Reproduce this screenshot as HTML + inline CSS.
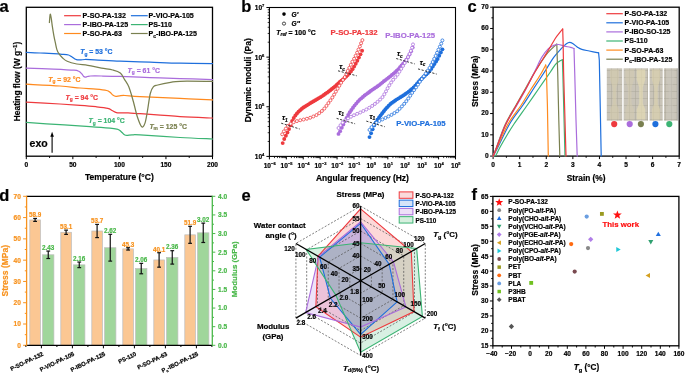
<!DOCTYPE html>
<html><head><meta charset="utf-8"><style>
html,body{margin:0;padding:0;background:#fff;overflow:hidden}
text{stroke-width:0.2px} text:not([stroke]){stroke:#000}
svg{display:block;will-change:transform;font-family:"Liberation Sans", sans-serif}
</style></head><body>
<svg width="685" height="374" viewBox="0 0 685 374">
<text x="-0.6" y="11.8" font-size="16.5" text-anchor="start" fill="#000" stroke="#000" font-weight="bold" >a</text>
<rect x="26.3" y="7.3" width="186.2" height="148.9" fill="none" stroke="#000" stroke-width="1.3" />
<line x1="26.3" y1="156.2" x2="26.3" y2="159.2" stroke="#000" stroke-width="1" />
<line x1="49.58" y1="156.2" x2="49.58" y2="157.9" stroke="#000" stroke-width="1" />
<line x1="72.85" y1="156.2" x2="72.85" y2="159.2" stroke="#000" stroke-width="1" />
<line x1="96.12" y1="156.2" x2="96.12" y2="157.9" stroke="#000" stroke-width="1" />
<line x1="119.4" y1="156.2" x2="119.4" y2="159.2" stroke="#000" stroke-width="1" />
<line x1="142.67" y1="156.2" x2="142.67" y2="157.9" stroke="#000" stroke-width="1" />
<line x1="165.95" y1="156.2" x2="165.95" y2="159.2" stroke="#000" stroke-width="1" />
<line x1="189.22" y1="156.2" x2="189.22" y2="157.9" stroke="#000" stroke-width="1" />
<line x1="212.5" y1="156.2" x2="212.5" y2="159.2" stroke="#000" stroke-width="1" />
<text x="26.3" y="167.2" font-size="6.6" text-anchor="middle" fill="#000" stroke="#000" font-weight="bold" >0</text>
<text x="72.85" y="167.2" font-size="6.6" text-anchor="middle" fill="#000" stroke="#000" font-weight="bold" >50</text>
<text x="119.4" y="167.2" font-size="6.6" text-anchor="middle" fill="#000" stroke="#000" font-weight="bold" >100</text>
<text x="165.95" y="167.2" font-size="6.6" text-anchor="middle" fill="#000" stroke="#000" font-weight="bold" >150</text>
<text x="212.5" y="167.2" font-size="6.6" text-anchor="middle" fill="#000" stroke="#000" font-weight="bold" >200</text>
<text x="119.4" y="179.8" font-size="8.55" text-anchor="middle" fill="#000" stroke="#000" font-weight="bold" >Temperature (°C)</text>
<text x="20.2" y="81.5" font-size="8.4" font-weight="bold" text-anchor="middle" transform="rotate(-90 20.2 81.5)">Heating flow (W g<tspan font-size="5.6" dy="-3.2">−1</tspan><tspan dy="3.2">)</tspan></text>
<text x="29.6" y="147.2" font-size="10.5" text-anchor="start" fill="#000" stroke="#000" font-weight="bold" >exo</text>
<line x1="52.1" y1="152.8" x2="52.1" y2="135.5" stroke="#000" stroke-width="1.1" />
<polygon points="52.1,131.8 50.3,136.8 53.9,136.8" fill="#000" stroke="none" stroke-width="1" stroke-linejoin="miter" />
<path d="M26.3,52.4 C28.58,52.5 35.48,52.78 40,53 C44.52,53.22 49.73,53.48 53.4,53.7 C57.07,53.92 59.48,54.08 62,54.3 C64.52,54.52 67,54.67 68.5,55 C70,55.33 70.2,55.83 71,56.3 C71.8,56.77 72.55,57.3 73.3,57.8 C74.05,58.3 74.8,58.95 75.5,59.3 C76.2,59.65 76.58,59.8 77.5,59.9 C78.42,60 79.75,59.97 81,59.9 C82.25,59.83 82.73,59.52 85,59.5 C87.27,59.48 88.77,59.52 94.6,59.8 C100.43,60.08 110.77,60.8 120,61.2 C129.23,61.6 140,61.87 150,62.2 C160,62.53 169.58,62.97 180,63.2 C190.42,63.43 207.08,63.53 212.5,63.6" fill="none" stroke="#1e6fdc" stroke-width="1.25" stroke-linejoin="round" stroke-linecap="round" />
<path d="M26.3,68.1 C30.82,68.27 45.45,68.75 53.4,69.1 C61.35,69.45 69.77,69.83 74,70.2 C78.23,70.57 77.53,70.73 78.8,71.3 C80.07,71.87 80.82,72.78 81.6,73.6 C82.38,74.42 82.9,75.62 83.5,76.2 C84.1,76.78 84.53,77.05 85.2,77.1 C85.87,77.15 86.62,76.68 87.5,76.5 C88.38,76.32 88.17,76.08 90.5,76 C92.83,75.92 96.58,75.93 101.5,76 C106.42,76.07 111.92,76.13 120,76.4 C128.08,76.67 140,77.23 150,77.6 C160,77.97 169.58,78.27 180,78.6 C190.42,78.93 207.08,79.43 212.5,79.6" fill="none" stroke="#aa6ddc" stroke-width="1.25" stroke-linejoin="round" stroke-linecap="round" />
<path d="M26.3,84.2 C31.92,84.5 51.05,85.37 60,86 C68.95,86.63 74,87.48 80,88 C86,88.52 91.55,88.68 96,89.1 C100.45,89.52 104.37,89.97 106.7,90.5 C109.03,91.03 108.92,91.5 110,92.3 C111.08,93.1 112.23,94.63 113.2,95.3 C114.17,95.97 114.73,96.22 115.8,96.3 C116.87,96.38 118.08,95.93 119.6,95.8 C121.12,95.67 121.5,95.37 124.9,95.5 C128.3,95.63 130.82,96.12 140,96.6 C149.18,97.08 167.92,97.85 180,98.4 C192.08,98.95 207.08,99.65 212.5,99.9" fill="none" stroke="#ff8a1e" stroke-width="1.25" stroke-linejoin="round" stroke-linecap="round" />
<path d="M26.3,102.1 C31.92,102.42 51.05,103.47 60,104 C68.95,104.53 74,104.85 80,105.3 C86,105.75 91.37,106.2 96,106.7 C100.63,107.2 105.12,107.67 107.8,108.3 C110.48,108.93 110.67,109.78 112.1,110.5 C113.53,111.22 114.98,112.2 116.4,112.6 C117.82,113 118.65,112.85 120.6,112.9 C122.55,112.95 124.87,112.77 128.1,112.9 C131.33,113.03 131.35,113.08 140,113.7 C148.65,114.32 167.92,115.88 180,116.6 C192.08,117.32 207.08,117.77 212.5,118" fill="none" stroke="#ee3a3e" stroke-width="1.25" stroke-linejoin="round" stroke-linecap="round" />
<path d="M26.3,122.3 C31.92,122.7 49.38,123.98 60,124.7 C70.62,125.42 81.67,126.02 90,126.6 C98.33,127.18 105.5,127.77 110,128.2 C114.5,128.63 115.42,128.85 117,129.2 C118.58,129.55 118.67,129.75 119.5,130.3 C120.33,130.85 121.18,131.77 122,132.5 C122.82,133.23 123.6,134.22 124.4,134.7 C125.2,135.18 125.53,135.37 126.8,135.4 C128.07,135.43 129.8,134.98 132,134.9 C134.2,134.82 132,134.47 140,134.9 C148,135.33 167.92,136.82 180,137.5 C192.08,138.18 207.08,138.75 212.5,139" fill="none" stroke="#3cb474" stroke-width="1.25" stroke-linejoin="round" stroke-linecap="round" />
<path d="M49.4,22.5 C49.53,21.13 49.88,14.93 50.2,14.3 C50.52,13.67 50.95,16.72 51.3,18.7 C51.65,20.68 51.87,23.33 52.3,26.2 C52.73,29.07 53.37,33.03 53.9,35.9 C54.43,38.77 55,41.12 55.5,43.4 C56,45.68 56.33,47.88 56.9,49.6 C57.47,51.32 57.98,52.33 58.9,53.7 C59.82,55.07 61.02,56.53 62.4,57.8 C63.78,59.07 64.8,60.27 67.2,61.3 C69.6,62.33 73.37,63.32 76.8,64 C80.23,64.68 83.68,64.72 87.8,65.4 C91.92,66.08 97.33,67.33 101.5,68.1 C105.67,68.87 109.67,69.18 112.8,70 C115.93,70.82 118.33,71.4 120.3,73 C122.27,74.6 123.17,77.25 124.6,79.6 C126.03,81.95 127.47,83.53 128.9,87.1 C130.33,90.67 131.78,96.02 133.2,101 C134.62,105.98 135.98,112.72 137.4,117 C138.82,121.28 140.45,125.63 141.7,126.7 C142.95,127.77 143.93,126.08 144.9,123.4 C145.87,120.72 146.6,115.58 147.5,110.6 C148.4,105.62 149.3,97.48 150.3,93.5 C151.3,89.52 152.25,88.12 153.5,86.7 C154.75,85.28 154.95,85.72 157.8,85 C160.65,84.28 166.9,83.02 170.6,82.4 C174.3,81.78 173.02,81.47 180,81.3 C186.98,81.13 207.08,81.38 212.5,81.4" fill="none" stroke="#7a8050" stroke-width="1.25" stroke-linejoin="round" stroke-linecap="round" />
<text x="80.2" y="54.2" font-size="6.9" fill="#1e6fdc" stroke="#1e6fdc" font-weight="bold" text-anchor="start" ><tspan font-style="italic">T</tspan><tspan font-size="4.83" dy="1.52">g</tspan><tspan dy="-1.52"> = 53 °C</tspan></text>
<text x="127.6" y="72.8" font-size="6.9" fill="#aa6ddc" stroke="#aa6ddc" font-weight="bold" text-anchor="start" ><tspan font-style="italic">T</tspan><tspan font-size="4.83" dy="1.52">g</tspan><tspan dy="-1.52"> = 61 °C</tspan></text>
<text x="48.2" y="81.9" font-size="6.9" fill="#ff8a1e" stroke="#ff8a1e" font-weight="bold" text-anchor="start" ><tspan font-style="italic">T</tspan><tspan font-size="4.83" dy="1.52">g</tspan><tspan dy="-1.52"> = 92 °C</tspan></text>
<text x="65.6" y="99.8" font-size="6.9" fill="#ee3a3e" stroke="#ee3a3e" font-weight="bold" text-anchor="start" ><tspan font-style="italic">T</tspan><tspan font-size="4.83" dy="1.52">g</tspan><tspan dy="-1.52"> = 94 °C</tspan></text>
<text x="88.6" y="123.1" font-size="6.9" fill="#3cb474" stroke="#3cb474" font-weight="bold" text-anchor="start" ><tspan font-style="italic">T</tspan><tspan font-size="4.83" dy="1.52">g</tspan><tspan dy="-1.52"> = 104 °C</tspan></text>
<text x="149.4" y="128.8" font-size="6.9" fill="#7a8050" stroke="#7a8050" font-weight="bold" text-anchor="start" ><tspan font-style="italic">T</tspan><tspan font-size="4.83" dy="1.52">m</tspan><tspan dy="-1.52"> = 125 °C</tspan></text>
<line x1="64.1" y1="15.7" x2="80.9" y2="15.7" stroke="#ee3a3e" stroke-width="1.2" />
<text x="82.6" y="18" font-size="7.1" text-anchor="start" fill="#000" stroke="#000" font-weight="bold" >P-SO-PA-132</text>
<line x1="64.1" y1="24.6" x2="80.9" y2="24.6" stroke="#aa6ddc" stroke-width="1.2" />
<text x="82.6" y="26.9" font-size="7.1" text-anchor="start" fill="#000" stroke="#000" font-weight="bold" >P-IBO-PA-125</text>
<line x1="64.1" y1="33.5" x2="80.9" y2="33.5" stroke="#ff8a1e" stroke-width="1.2" />
<text x="82.6" y="35.8" font-size="7.1" text-anchor="start" fill="#000" stroke="#000" font-weight="bold" >P-SO-PA-63</text>
<line x1="130.9" y1="15.7" x2="147.7" y2="15.7" stroke="#1e6fdc" stroke-width="1.2" />
<text x="148.6" y="18" font-size="7.1" text-anchor="start" fill="#000" stroke="#000" font-weight="bold" >P-VIO-PA-105</text>
<line x1="130.9" y1="24.6" x2="147.7" y2="24.6" stroke="#3cb474" stroke-width="1.2" />
<text x="148.6" y="26.9" font-size="7.1" text-anchor="start" fill="#000" stroke="#000" font-weight="bold" >PS-110</text>
<line x1="130.9" y1="33.5" x2="147.7" y2="33.5" stroke="#7a8050" stroke-width="1.2" />
<text x="148.6" y="35.8" font-size="7.1" font-weight="bold">P<tspan font-size="5" dy="1.8">c</tspan><tspan dy="-1.8">-IBO-PA-125</tspan></text>
<text x="241.2" y="11.7" font-size="16.5" text-anchor="start" fill="#000" stroke="#000" font-weight="bold" >b</text>
<rect x="269.4" y="7.5" width="186.1" height="148.9" fill="none" stroke="#000" stroke-width="1.1" />
<line x1="269.4" y1="156.4" x2="269.4" y2="159.4" stroke="#000" stroke-width="1" />
<line x1="274.49" y1="156.4" x2="274.49" y2="158.1" stroke="#000" stroke-width="0.8" />
<line x1="277.47" y1="156.4" x2="277.47" y2="158.1" stroke="#000" stroke-width="0.8" />
<line x1="279.59" y1="156.4" x2="279.59" y2="158.1" stroke="#000" stroke-width="0.8" />
<line x1="281.23" y1="156.4" x2="281.23" y2="158.1" stroke="#000" stroke-width="0.8" />
<line x1="282.56" y1="156.4" x2="282.56" y2="158.1" stroke="#000" stroke-width="0.8" />
<line x1="283.7" y1="156.4" x2="283.7" y2="158.1" stroke="#000" stroke-width="0.8" />
<line x1="284.68" y1="156.4" x2="284.68" y2="158.1" stroke="#000" stroke-width="0.8" />
<line x1="285.54" y1="156.4" x2="285.54" y2="158.1" stroke="#000" stroke-width="0.8" />
<text x="269.7" y="167.6" font-size="6.6" font-weight="bold" text-anchor="middle">10<tspan font-size="4.09" dy="-2.77">−6</tspan></text>
<line x1="286.32" y1="156.4" x2="286.32" y2="159.4" stroke="#000" stroke-width="1" />
<line x1="291.41" y1="156.4" x2="291.41" y2="158.1" stroke="#000" stroke-width="0.8" />
<line x1="294.39" y1="156.4" x2="294.39" y2="158.1" stroke="#000" stroke-width="0.8" />
<line x1="296.5" y1="156.4" x2="296.5" y2="158.1" stroke="#000" stroke-width="0.8" />
<line x1="298.14" y1="156.4" x2="298.14" y2="158.1" stroke="#000" stroke-width="0.8" />
<line x1="299.48" y1="156.4" x2="299.48" y2="158.1" stroke="#000" stroke-width="0.8" />
<line x1="300.62" y1="156.4" x2="300.62" y2="158.1" stroke="#000" stroke-width="0.8" />
<line x1="301.6" y1="156.4" x2="301.6" y2="158.1" stroke="#000" stroke-width="0.8" />
<line x1="302.46" y1="156.4" x2="302.46" y2="158.1" stroke="#000" stroke-width="0.8" />
<text x="286.62" y="167.6" font-size="6.6" font-weight="bold" text-anchor="middle">10<tspan font-size="4.09" dy="-2.77">−5</tspan></text>
<line x1="303.24" y1="156.4" x2="303.24" y2="159.4" stroke="#000" stroke-width="1" />
<line x1="308.33" y1="156.4" x2="308.33" y2="158.1" stroke="#000" stroke-width="0.8" />
<line x1="311.31" y1="156.4" x2="311.31" y2="158.1" stroke="#000" stroke-width="0.8" />
<line x1="313.42" y1="156.4" x2="313.42" y2="158.1" stroke="#000" stroke-width="0.8" />
<line x1="315.06" y1="156.4" x2="315.06" y2="158.1" stroke="#000" stroke-width="0.8" />
<line x1="316.4" y1="156.4" x2="316.4" y2="158.1" stroke="#000" stroke-width="0.8" />
<line x1="317.53" y1="156.4" x2="317.53" y2="158.1" stroke="#000" stroke-width="0.8" />
<line x1="318.52" y1="156.4" x2="318.52" y2="158.1" stroke="#000" stroke-width="0.8" />
<line x1="319.38" y1="156.4" x2="319.38" y2="158.1" stroke="#000" stroke-width="0.8" />
<text x="303.54" y="167.6" font-size="6.6" font-weight="bold" text-anchor="middle">10<tspan font-size="4.09" dy="-2.77">−4</tspan></text>
<line x1="320.15" y1="156.4" x2="320.15" y2="159.4" stroke="#000" stroke-width="1" />
<line x1="325.25" y1="156.4" x2="325.25" y2="158.1" stroke="#000" stroke-width="0.8" />
<line x1="328.23" y1="156.4" x2="328.23" y2="158.1" stroke="#000" stroke-width="0.8" />
<line x1="330.34" y1="156.4" x2="330.34" y2="158.1" stroke="#000" stroke-width="0.8" />
<line x1="331.98" y1="156.4" x2="331.98" y2="158.1" stroke="#000" stroke-width="0.8" />
<line x1="333.32" y1="156.4" x2="333.32" y2="158.1" stroke="#000" stroke-width="0.8" />
<line x1="334.45" y1="156.4" x2="334.45" y2="158.1" stroke="#000" stroke-width="0.8" />
<line x1="335.43" y1="156.4" x2="335.43" y2="158.1" stroke="#000" stroke-width="0.8" />
<line x1="336.3" y1="156.4" x2="336.3" y2="158.1" stroke="#000" stroke-width="0.8" />
<text x="320.45" y="167.6" font-size="6.6" font-weight="bold" text-anchor="middle">10<tspan font-size="4.09" dy="-2.77">−3</tspan></text>
<line x1="337.07" y1="156.4" x2="337.07" y2="159.4" stroke="#000" stroke-width="1" />
<line x1="342.17" y1="156.4" x2="342.17" y2="158.1" stroke="#000" stroke-width="0.8" />
<line x1="345.14" y1="156.4" x2="345.14" y2="158.1" stroke="#000" stroke-width="0.8" />
<line x1="347.26" y1="156.4" x2="347.26" y2="158.1" stroke="#000" stroke-width="0.8" />
<line x1="348.9" y1="156.4" x2="348.9" y2="158.1" stroke="#000" stroke-width="0.8" />
<line x1="350.24" y1="156.4" x2="350.24" y2="158.1" stroke="#000" stroke-width="0.8" />
<line x1="351.37" y1="156.4" x2="351.37" y2="158.1" stroke="#000" stroke-width="0.8" />
<line x1="352.35" y1="156.4" x2="352.35" y2="158.1" stroke="#000" stroke-width="0.8" />
<line x1="353.22" y1="156.4" x2="353.22" y2="158.1" stroke="#000" stroke-width="0.8" />
<text x="337.37" y="167.6" font-size="6.6" font-weight="bold" text-anchor="middle">10<tspan font-size="4.09" dy="-2.77">−2</tspan></text>
<line x1="353.99" y1="156.4" x2="353.99" y2="159.4" stroke="#000" stroke-width="1" />
<line x1="359.08" y1="156.4" x2="359.08" y2="158.1" stroke="#000" stroke-width="0.8" />
<line x1="362.06" y1="156.4" x2="362.06" y2="158.1" stroke="#000" stroke-width="0.8" />
<line x1="364.18" y1="156.4" x2="364.18" y2="158.1" stroke="#000" stroke-width="0.8" />
<line x1="365.82" y1="156.4" x2="365.82" y2="158.1" stroke="#000" stroke-width="0.8" />
<line x1="367.16" y1="156.4" x2="367.16" y2="158.1" stroke="#000" stroke-width="0.8" />
<line x1="368.29" y1="156.4" x2="368.29" y2="158.1" stroke="#000" stroke-width="0.8" />
<line x1="369.27" y1="156.4" x2="369.27" y2="158.1" stroke="#000" stroke-width="0.8" />
<line x1="370.13" y1="156.4" x2="370.13" y2="158.1" stroke="#000" stroke-width="0.8" />
<text x="354.29" y="167.6" font-size="6.6" font-weight="bold" text-anchor="middle">10<tspan font-size="4.09" dy="-2.77">−1</tspan></text>
<line x1="370.91" y1="156.4" x2="370.91" y2="159.4" stroke="#000" stroke-width="1" />
<line x1="376" y1="156.4" x2="376" y2="158.1" stroke="#000" stroke-width="0.8" />
<line x1="378.98" y1="156.4" x2="378.98" y2="158.1" stroke="#000" stroke-width="0.8" />
<line x1="381.09" y1="156.4" x2="381.09" y2="158.1" stroke="#000" stroke-width="0.8" />
<line x1="382.73" y1="156.4" x2="382.73" y2="158.1" stroke="#000" stroke-width="0.8" />
<line x1="384.07" y1="156.4" x2="384.07" y2="158.1" stroke="#000" stroke-width="0.8" />
<line x1="385.21" y1="156.4" x2="385.21" y2="158.1" stroke="#000" stroke-width="0.8" />
<line x1="386.19" y1="156.4" x2="386.19" y2="158.1" stroke="#000" stroke-width="0.8" />
<line x1="387.05" y1="156.4" x2="387.05" y2="158.1" stroke="#000" stroke-width="0.8" />
<text x="371.21" y="167.6" font-size="6.6" font-weight="bold" text-anchor="middle">10<tspan font-size="4.09" dy="-2.77">0</tspan></text>
<line x1="387.83" y1="156.4" x2="387.83" y2="159.4" stroke="#000" stroke-width="1" />
<line x1="392.92" y1="156.4" x2="392.92" y2="158.1" stroke="#000" stroke-width="0.8" />
<line x1="395.9" y1="156.4" x2="395.9" y2="158.1" stroke="#000" stroke-width="0.8" />
<line x1="398.01" y1="156.4" x2="398.01" y2="158.1" stroke="#000" stroke-width="0.8" />
<line x1="399.65" y1="156.4" x2="399.65" y2="158.1" stroke="#000" stroke-width="0.8" />
<line x1="400.99" y1="156.4" x2="400.99" y2="158.1" stroke="#000" stroke-width="0.8" />
<line x1="402.12" y1="156.4" x2="402.12" y2="158.1" stroke="#000" stroke-width="0.8" />
<line x1="403.11" y1="156.4" x2="403.11" y2="158.1" stroke="#000" stroke-width="0.8" />
<line x1="403.97" y1="156.4" x2="403.97" y2="158.1" stroke="#000" stroke-width="0.8" />
<text x="388.13" y="167.6" font-size="6.6" font-weight="bold" text-anchor="middle">10<tspan font-size="4.09" dy="-2.77">1</tspan></text>
<line x1="404.75" y1="156.4" x2="404.75" y2="159.4" stroke="#000" stroke-width="1" />
<line x1="409.84" y1="156.4" x2="409.84" y2="158.1" stroke="#000" stroke-width="0.8" />
<line x1="412.82" y1="156.4" x2="412.82" y2="158.1" stroke="#000" stroke-width="0.8" />
<line x1="414.93" y1="156.4" x2="414.93" y2="158.1" stroke="#000" stroke-width="0.8" />
<line x1="416.57" y1="156.4" x2="416.57" y2="158.1" stroke="#000" stroke-width="0.8" />
<line x1="417.91" y1="156.4" x2="417.91" y2="158.1" stroke="#000" stroke-width="0.8" />
<line x1="419.04" y1="156.4" x2="419.04" y2="158.1" stroke="#000" stroke-width="0.8" />
<line x1="420.02" y1="156.4" x2="420.02" y2="158.1" stroke="#000" stroke-width="0.8" />
<line x1="420.89" y1="156.4" x2="420.89" y2="158.1" stroke="#000" stroke-width="0.8" />
<text x="405.05" y="167.6" font-size="6.6" font-weight="bold" text-anchor="middle">10<tspan font-size="4.09" dy="-2.77">2</tspan></text>
<line x1="421.66" y1="156.4" x2="421.66" y2="159.4" stroke="#000" stroke-width="1" />
<line x1="426.76" y1="156.4" x2="426.76" y2="158.1" stroke="#000" stroke-width="0.8" />
<line x1="429.74" y1="156.4" x2="429.74" y2="158.1" stroke="#000" stroke-width="0.8" />
<line x1="431.85" y1="156.4" x2="431.85" y2="158.1" stroke="#000" stroke-width="0.8" />
<line x1="433.49" y1="156.4" x2="433.49" y2="158.1" stroke="#000" stroke-width="0.8" />
<line x1="434.83" y1="156.4" x2="434.83" y2="158.1" stroke="#000" stroke-width="0.8" />
<line x1="435.96" y1="156.4" x2="435.96" y2="158.1" stroke="#000" stroke-width="0.8" />
<line x1="436.94" y1="156.4" x2="436.94" y2="158.1" stroke="#000" stroke-width="0.8" />
<line x1="437.81" y1="156.4" x2="437.81" y2="158.1" stroke="#000" stroke-width="0.8" />
<text x="421.96" y="167.6" font-size="6.6" font-weight="bold" text-anchor="middle">10<tspan font-size="4.09" dy="-2.77">3</tspan></text>
<line x1="438.58" y1="156.4" x2="438.58" y2="159.4" stroke="#000" stroke-width="1" />
<line x1="443.67" y1="156.4" x2="443.67" y2="158.1" stroke="#000" stroke-width="0.8" />
<line x1="446.65" y1="156.4" x2="446.65" y2="158.1" stroke="#000" stroke-width="0.8" />
<line x1="448.77" y1="156.4" x2="448.77" y2="158.1" stroke="#000" stroke-width="0.8" />
<line x1="450.41" y1="156.4" x2="450.41" y2="158.1" stroke="#000" stroke-width="0.8" />
<line x1="451.75" y1="156.4" x2="451.75" y2="158.1" stroke="#000" stroke-width="0.8" />
<line x1="452.88" y1="156.4" x2="452.88" y2="158.1" stroke="#000" stroke-width="0.8" />
<line x1="453.86" y1="156.4" x2="453.86" y2="158.1" stroke="#000" stroke-width="0.8" />
<line x1="454.73" y1="156.4" x2="454.73" y2="158.1" stroke="#000" stroke-width="0.8" />
<text x="438.88" y="167.6" font-size="6.6" font-weight="bold" text-anchor="middle">10<tspan font-size="4.09" dy="-2.77">4</tspan></text>
<line x1="455.5" y1="156.4" x2="455.5" y2="159.4" stroke="#000" stroke-width="1" />
<text x="455.8" y="167.6" font-size="6.6" font-weight="bold" text-anchor="middle">10<tspan font-size="4.09" dy="-2.77">5</tspan></text>
<line x1="269.4" y1="156.4" x2="266.4" y2="156.4" stroke="#000" stroke-width="1" />
<line x1="269.4" y1="141.46" x2="267.7" y2="141.46" stroke="#000" stroke-width="0.8" />
<line x1="269.4" y1="132.72" x2="267.7" y2="132.72" stroke="#000" stroke-width="0.8" />
<line x1="269.4" y1="126.52" x2="267.7" y2="126.52" stroke="#000" stroke-width="0.8" />
<line x1="269.4" y1="121.71" x2="267.7" y2="121.71" stroke="#000" stroke-width="0.8" />
<line x1="269.4" y1="117.78" x2="267.7" y2="117.78" stroke="#000" stroke-width="0.8" />
<line x1="269.4" y1="114.45" x2="267.7" y2="114.45" stroke="#000" stroke-width="0.8" />
<line x1="269.4" y1="111.58" x2="267.7" y2="111.58" stroke="#000" stroke-width="0.8" />
<line x1="269.4" y1="109.04" x2="267.7" y2="109.04" stroke="#000" stroke-width="0.8" />
<text x="264.4" y="158.8" font-size="6.6" font-weight="bold" text-anchor="end">10<tspan font-size="4.09" dy="-2.77">4</tspan></text>
<line x1="269.4" y1="106.77" x2="266.4" y2="106.77" stroke="#000" stroke-width="1" />
<line x1="269.4" y1="91.83" x2="267.7" y2="91.83" stroke="#000" stroke-width="0.8" />
<line x1="269.4" y1="83.09" x2="267.7" y2="83.09" stroke="#000" stroke-width="0.8" />
<line x1="269.4" y1="76.88" x2="267.7" y2="76.88" stroke="#000" stroke-width="0.8" />
<line x1="269.4" y1="72.07" x2="267.7" y2="72.07" stroke="#000" stroke-width="0.8" />
<line x1="269.4" y1="68.14" x2="267.7" y2="68.14" stroke="#000" stroke-width="0.8" />
<line x1="269.4" y1="64.82" x2="267.7" y2="64.82" stroke="#000" stroke-width="0.8" />
<line x1="269.4" y1="61.94" x2="267.7" y2="61.94" stroke="#000" stroke-width="0.8" />
<line x1="269.4" y1="59.4" x2="267.7" y2="59.4" stroke="#000" stroke-width="0.8" />
<text x="264.4" y="109.17" font-size="6.6" font-weight="bold" text-anchor="end">10<tspan font-size="4.09" dy="-2.77">5</tspan></text>
<line x1="269.4" y1="57.13" x2="266.4" y2="57.13" stroke="#000" stroke-width="1" />
<line x1="269.4" y1="42.19" x2="267.7" y2="42.19" stroke="#000" stroke-width="0.8" />
<line x1="269.4" y1="33.45" x2="267.7" y2="33.45" stroke="#000" stroke-width="0.8" />
<line x1="269.4" y1="27.25" x2="267.7" y2="27.25" stroke="#000" stroke-width="0.8" />
<line x1="269.4" y1="22.44" x2="267.7" y2="22.44" stroke="#000" stroke-width="0.8" />
<line x1="269.4" y1="18.51" x2="267.7" y2="18.51" stroke="#000" stroke-width="0.8" />
<line x1="269.4" y1="15.19" x2="267.7" y2="15.19" stroke="#000" stroke-width="0.8" />
<line x1="269.4" y1="12.31" x2="267.7" y2="12.31" stroke="#000" stroke-width="0.8" />
<line x1="269.4" y1="9.77" x2="267.7" y2="9.77" stroke="#000" stroke-width="0.8" />
<text x="264.4" y="59.53" font-size="6.6" font-weight="bold" text-anchor="end">10<tspan font-size="4.09" dy="-2.77">6</tspan></text>
<line x1="269.4" y1="7.5" x2="266.4" y2="7.5" stroke="#000" stroke-width="1" />
<text x="264.4" y="9.9" font-size="6.6" font-weight="bold" text-anchor="end">10<tspan font-size="4.09" dy="-2.77">7</tspan></text>
<text x="362.45" y="181.3" font-size="8.45" text-anchor="middle" fill="#000" stroke="#000" font-weight="bold" >Angular frequency (Hz)</text>
<text x="250.6" y="80.3" font-size="8.5" text-anchor="middle" fill="#000" stroke="#000" font-weight="bold" transform="rotate(-90 250.6 80.3)" >Dynamic moduli (Pa)</text>
<circle cx="284" cy="14.1" r="1.8" fill="#000" stroke="none" stroke-width="1" />
<circle cx="284" cy="23.6" r="1.6" fill="#fff" stroke="#000" stroke-width="0.7" />
<text x="291.5" y="16.6" font-size="6.6" font-weight="bold" font-style="italic">G′</text>
<text x="291.5" y="26.1" font-size="6.6" font-weight="bold" font-style="italic">G″</text>
<text x="276.3" y="34.6" font-size="6.9" font-weight="bold"><tspan font-style="italic">T</tspan><tspan font-size="4.8" dy="1.8" font-style="italic">ref</tspan><tspan dy="-1.8"> = 100 °C</tspan></text>
<text x="330.4" y="34.6" font-size="7.75" text-anchor="start" fill="#ee3a3e" stroke="#ee3a3e" font-weight="bold" >P-SO-PA-132</text>
<text x="385.2" y="37.6" font-size="7.75" text-anchor="start" fill="#aa6ddc" stroke="#aa6ddc" font-weight="bold" >P-IBO-PA-125</text>
<text x="396.2" y="126" font-size="7.75" text-anchor="start" fill="#1e6fdc" stroke="#1e6fdc" font-weight="bold" >P-VIO-PA-105</text>
<circle cx="282.7" cy="143.1" r="1.95" fill="#ee3a3e" stroke="none" stroke-width="1" />
<circle cx="284.23" cy="138.98" r="1.95" fill="#ee3a3e" stroke="none" stroke-width="1" />
<circle cx="285.86" cy="135.76" r="1.95" fill="#ee3a3e" stroke="none" stroke-width="1" />
<circle cx="287.48" cy="132.55" r="1.95" fill="#ee3a3e" stroke="none" stroke-width="1" />
<circle cx="289.04" cy="129.09" r="1.95" fill="#ee3a3e" stroke="none" stroke-width="1" />
<circle cx="290.62" cy="125.19" r="1.95" fill="#ee3a3e" stroke="none" stroke-width="1" />
<circle cx="292.16" cy="121.07" r="1.95" fill="#ee3a3e" stroke="none" stroke-width="1" />
<circle cx="293.73" cy="118.06" r="1.95" fill="#ee3a3e" stroke="none" stroke-width="1" />
<circle cx="295.36" cy="115.55" r="1.95" fill="#ee3a3e" stroke="none" stroke-width="1" />
<circle cx="296.94" cy="113.49" r="1.95" fill="#ee3a3e" stroke="none" stroke-width="1" />
<circle cx="298.51" cy="111.67" r="1.95" fill="#ee3a3e" stroke="none" stroke-width="1" />
<circle cx="300.12" cy="110.18" r="1.95" fill="#ee3a3e" stroke="none" stroke-width="1" />
<circle cx="301.81" cy="108.78" r="1.95" fill="#ee3a3e" stroke="none" stroke-width="1" />
<circle cx="303.39" cy="107.55" r="1.95" fill="#ee3a3e" stroke="none" stroke-width="1" />
<circle cx="305.08" cy="106.49" r="1.95" fill="#ee3a3e" stroke="none" stroke-width="1" />
<circle cx="306.78" cy="105.42" r="1.95" fill="#ee3a3e" stroke="none" stroke-width="1" />
<circle cx="308.47" cy="104.36" r="1.95" fill="#ee3a3e" stroke="none" stroke-width="1" />
<circle cx="310.18" cy="103.32" r="1.95" fill="#ee3a3e" stroke="none" stroke-width="1" />
<circle cx="311.89" cy="102.28" r="1.95" fill="#ee3a3e" stroke="none" stroke-width="1" />
<circle cx="313.6" cy="101.25" r="1.95" fill="#ee3a3e" stroke="none" stroke-width="1" />
<circle cx="315.31" cy="100.21" r="1.95" fill="#ee3a3e" stroke="none" stroke-width="1" />
<circle cx="317.03" cy="99.19" r="1.95" fill="#ee3a3e" stroke="none" stroke-width="1" />
<circle cx="318.75" cy="98.16" r="1.95" fill="#ee3a3e" stroke="none" stroke-width="1" />
<circle cx="320.47" cy="97.14" r="1.95" fill="#ee3a3e" stroke="none" stroke-width="1" />
<circle cx="322.16" cy="96.08" r="1.95" fill="#ee3a3e" stroke="none" stroke-width="1" />
<circle cx="323.8" cy="94.93" r="1.95" fill="#ee3a3e" stroke="none" stroke-width="1" />
<circle cx="325.44" cy="93.78" r="1.95" fill="#ee3a3e" stroke="none" stroke-width="1" />
<circle cx="327.07" cy="92.63" r="1.95" fill="#ee3a3e" stroke="none" stroke-width="1" />
<circle cx="328.7" cy="91.46" r="1.95" fill="#ee3a3e" stroke="none" stroke-width="1" />
<circle cx="330.27" cy="90.22" r="1.95" fill="#ee3a3e" stroke="none" stroke-width="1" />
<circle cx="331.84" cy="88.98" r="1.95" fill="#ee3a3e" stroke="none" stroke-width="1" />
<circle cx="333.4" cy="87.74" r="1.95" fill="#ee3a3e" stroke="none" stroke-width="1" />
<circle cx="334.97" cy="86.5" r="1.95" fill="#ee3a3e" stroke="none" stroke-width="1" />
<circle cx="336.59" cy="85" r="1.95" fill="#ee3a3e" stroke="none" stroke-width="1" />
<circle cx="338.19" cy="83.5" r="1.95" fill="#ee3a3e" stroke="none" stroke-width="1" />
<circle cx="339.79" cy="81.99" r="1.95" fill="#ee3a3e" stroke="none" stroke-width="1" />
<circle cx="341.37" cy="80.76" r="1.95" fill="#ee3a3e" stroke="none" stroke-width="1" />
<circle cx="342.95" cy="79.54" r="1.95" fill="#ee3a3e" stroke="none" stroke-width="1" />
<circle cx="344.58" cy="78.06" r="1.95" fill="#ee3a3e" stroke="none" stroke-width="1" />
<circle cx="346.16" cy="76.53" r="1.95" fill="#ee3a3e" stroke="none" stroke-width="1" />
<circle cx="347.72" cy="74.98" r="1.95" fill="#ee3a3e" stroke="none" stroke-width="1" />
<circle cx="349.28" cy="73.42" r="1.95" fill="#ee3a3e" stroke="none" stroke-width="1" />
<circle cx="350.91" cy="71.41" r="1.95" fill="#ee3a3e" stroke="none" stroke-width="1" />
<circle cx="352.54" cy="69.13" r="1.95" fill="#ee3a3e" stroke="none" stroke-width="1" />
<circle cx="354.14" cy="66.59" r="1.95" fill="#ee3a3e" stroke="none" stroke-width="1" />
<circle cx="355.71" cy="63.81" r="1.95" fill="#ee3a3e" stroke="none" stroke-width="1" />
<circle cx="357.32" cy="60.81" r="1.95" fill="#ee3a3e" stroke="none" stroke-width="1" />
<circle cx="358.93" cy="57.59" r="1.95" fill="#ee3a3e" stroke="none" stroke-width="1" />
<circle cx="360.48" cy="54.34" r="1.95" fill="#ee3a3e" stroke="none" stroke-width="1" />
<circle cx="362.08" cy="50.68" r="1.95" fill="#ee3a3e" stroke="none" stroke-width="1" />
<circle cx="338.5" cy="133.9" r="1.95" fill="#aa6ddc" stroke="none" stroke-width="1" />
<circle cx="340.15" cy="131.15" r="1.95" fill="#aa6ddc" stroke="none" stroke-width="1" />
<circle cx="341.76" cy="127.72" r="1.95" fill="#aa6ddc" stroke="none" stroke-width="1" />
<circle cx="343.32" cy="124.47" r="1.95" fill="#aa6ddc" stroke="none" stroke-width="1" />
<circle cx="344.93" cy="121.25" r="1.95" fill="#aa6ddc" stroke="none" stroke-width="1" />
<circle cx="346.54" cy="118.02" r="1.95" fill="#aa6ddc" stroke="none" stroke-width="1" />
<circle cx="348.18" cy="115.04" r="1.95" fill="#aa6ddc" stroke="none" stroke-width="1" />
<circle cx="349.76" cy="112.26" r="1.95" fill="#aa6ddc" stroke="none" stroke-width="1" />
<circle cx="351.34" cy="109.95" r="1.95" fill="#aa6ddc" stroke="none" stroke-width="1" />
<circle cx="352.99" cy="107.69" r="1.95" fill="#aa6ddc" stroke="none" stroke-width="1" />
<circle cx="354.55" cy="105.6" r="1.95" fill="#aa6ddc" stroke="none" stroke-width="1" />
<circle cx="356.23" cy="103.61" r="1.95" fill="#aa6ddc" stroke="none" stroke-width="1" />
<circle cx="357.9" cy="101.62" r="1.95" fill="#aa6ddc" stroke="none" stroke-width="1" />
<circle cx="359.51" cy="99.85" r="1.95" fill="#aa6ddc" stroke="none" stroke-width="1" />
<circle cx="361.18" cy="98.41" r="1.95" fill="#aa6ddc" stroke="none" stroke-width="1" />
<circle cx="362.86" cy="96.98" r="1.95" fill="#aa6ddc" stroke="none" stroke-width="1" />
<circle cx="364.53" cy="95.55" r="1.95" fill="#aa6ddc" stroke="none" stroke-width="1" />
<circle cx="366.12" cy="94.34" r="1.95" fill="#aa6ddc" stroke="none" stroke-width="1" />
<circle cx="367.72" cy="93.14" r="1.95" fill="#aa6ddc" stroke="none" stroke-width="1" />
<circle cx="369.32" cy="91.93" r="1.95" fill="#aa6ddc" stroke="none" stroke-width="1" />
<circle cx="370.92" cy="90.73" r="1.95" fill="#aa6ddc" stroke="none" stroke-width="1" />
<circle cx="372.58" cy="89.61" r="1.95" fill="#aa6ddc" stroke="none" stroke-width="1" />
<circle cx="374.25" cy="88.5" r="1.95" fill="#aa6ddc" stroke="none" stroke-width="1" />
<circle cx="375.91" cy="87.39" r="1.95" fill="#aa6ddc" stroke="none" stroke-width="1" />
<circle cx="377.58" cy="86.28" r="1.95" fill="#aa6ddc" stroke="none" stroke-width="1" />
<circle cx="379.18" cy="85.09" r="1.95" fill="#aa6ddc" stroke="none" stroke-width="1" />
<circle cx="380.74" cy="83.83" r="1.95" fill="#aa6ddc" stroke="none" stroke-width="1" />
<circle cx="382.3" cy="82.58" r="1.95" fill="#aa6ddc" stroke="none" stroke-width="1" />
<circle cx="383.86" cy="81.32" r="1.95" fill="#aa6ddc" stroke="none" stroke-width="1" />
<circle cx="385.43" cy="80.09" r="1.95" fill="#aa6ddc" stroke="none" stroke-width="1" />
<circle cx="387.02" cy="78.87" r="1.95" fill="#aa6ddc" stroke="none" stroke-width="1" />
<circle cx="388.61" cy="77.65" r="1.95" fill="#aa6ddc" stroke="none" stroke-width="1" />
<circle cx="390.17" cy="76.4" r="1.95" fill="#aa6ddc" stroke="none" stroke-width="1" />
<circle cx="391.86" cy="74.99" r="1.95" fill="#aa6ddc" stroke="none" stroke-width="1" />
<circle cx="393.55" cy="73.58" r="1.95" fill="#aa6ddc" stroke="none" stroke-width="1" />
<circle cx="395.18" cy="72.1" r="1.95" fill="#aa6ddc" stroke="none" stroke-width="1" />
<circle cx="396.78" cy="70.59" r="1.95" fill="#aa6ddc" stroke="none" stroke-width="1" />
<circle cx="398.39" cy="69.08" r="1.95" fill="#aa6ddc" stroke="none" stroke-width="1" />
<circle cx="400" cy="67.3" r="1.95" fill="#aa6ddc" stroke="none" stroke-width="1" />
<circle cx="401.56" cy="65.48" r="1.95" fill="#aa6ddc" stroke="none" stroke-width="1" />
<circle cx="403.12" cy="63.66" r="1.95" fill="#aa6ddc" stroke="none" stroke-width="1" />
<circle cx="404.69" cy="61.83" r="1.95" fill="#aa6ddc" stroke="none" stroke-width="1" />
<circle cx="406.32" cy="59.81" r="1.95" fill="#aa6ddc" stroke="none" stroke-width="1" />
<circle cx="407.97" cy="57.3" r="1.95" fill="#aa6ddc" stroke="none" stroke-width="1" />
<circle cx="409.52" cy="54.51" r="1.95" fill="#aa6ddc" stroke="none" stroke-width="1" />
<circle cx="411.1" cy="51.27" r="1.95" fill="#aa6ddc" stroke="none" stroke-width="1" />
<circle cx="412.7" cy="47.6" r="1.95" fill="#aa6ddc" stroke="none" stroke-width="1" />
<circle cx="369.5" cy="137.1" r="1.95" fill="#1e6fdc" stroke="none" stroke-width="1" />
<circle cx="371.06" cy="133.2" r="1.95" fill="#1e6fdc" stroke="none" stroke-width="1" />
<circle cx="372.62" cy="129.3" r="1.95" fill="#1e6fdc" stroke="none" stroke-width="1" />
<circle cx="374.18" cy="125.41" r="1.95" fill="#1e6fdc" stroke="none" stroke-width="1" />
<circle cx="375.82" cy="122.43" r="1.95" fill="#1e6fdc" stroke="none" stroke-width="1" />
<circle cx="377.41" cy="119.66" r="1.95" fill="#1e6fdc" stroke="none" stroke-width="1" />
<circle cx="379.08" cy="117.41" r="1.95" fill="#1e6fdc" stroke="none" stroke-width="1" />
<circle cx="380.64" cy="115.34" r="1.95" fill="#1e6fdc" stroke="none" stroke-width="1" />
<circle cx="382.22" cy="113.27" r="1.95" fill="#1e6fdc" stroke="none" stroke-width="1" />
<circle cx="383.82" cy="111.22" r="1.95" fill="#1e6fdc" stroke="none" stroke-width="1" />
<circle cx="385.41" cy="109.17" r="1.95" fill="#1e6fdc" stroke="none" stroke-width="1" />
<circle cx="387.05" cy="107.42" r="1.95" fill="#1e6fdc" stroke="none" stroke-width="1" />
<circle cx="388.73" cy="105.7" r="1.95" fill="#1e6fdc" stroke="none" stroke-width="1" />
<circle cx="390.42" cy="104.01" r="1.95" fill="#1e6fdc" stroke="none" stroke-width="1" />
<circle cx="392.03" cy="102.82" r="1.95" fill="#1e6fdc" stroke="none" stroke-width="1" />
<circle cx="393.64" cy="101.63" r="1.95" fill="#1e6fdc" stroke="none" stroke-width="1" />
<circle cx="395.24" cy="100.44" r="1.95" fill="#1e6fdc" stroke="none" stroke-width="1" />
<circle cx="396.93" cy="99.37" r="1.95" fill="#1e6fdc" stroke="none" stroke-width="1" />
<circle cx="398.64" cy="98.34" r="1.95" fill="#1e6fdc" stroke="none" stroke-width="1" />
<circle cx="400.36" cy="97.32" r="1.95" fill="#1e6fdc" stroke="none" stroke-width="1" />
<circle cx="402.08" cy="96.29" r="1.95" fill="#1e6fdc" stroke="none" stroke-width="1" />
<circle cx="403.73" cy="95.17" r="1.95" fill="#1e6fdc" stroke="none" stroke-width="1" />
<circle cx="405.37" cy="94.02" r="1.95" fill="#1e6fdc" stroke="none" stroke-width="1" />
<circle cx="407" cy="92.87" r="1.95" fill="#1e6fdc" stroke="none" stroke-width="1" />
<circle cx="408.64" cy="91.72" r="1.95" fill="#1e6fdc" stroke="none" stroke-width="1" />
<circle cx="410.32" cy="90.31" r="1.95" fill="#1e6fdc" stroke="none" stroke-width="1" />
<circle cx="411.97" cy="88.85" r="1.95" fill="#1e6fdc" stroke="none" stroke-width="1" />
<circle cx="413.62" cy="87.4" r="1.95" fill="#1e6fdc" stroke="none" stroke-width="1" />
<circle cx="415.29" cy="85.68" r="1.95" fill="#1e6fdc" stroke="none" stroke-width="1" />
<circle cx="416.86" cy="83.87" r="1.95" fill="#1e6fdc" stroke="none" stroke-width="1" />
<circle cx="418.44" cy="82.06" r="1.95" fill="#1e6fdc" stroke="none" stroke-width="1" />
<circle cx="420.04" cy="80.27" r="1.95" fill="#1e6fdc" stroke="none" stroke-width="1" />
<circle cx="421.63" cy="78.76" r="1.95" fill="#1e6fdc" stroke="none" stroke-width="1" />
<circle cx="423.22" cy="77.24" r="1.95" fill="#1e6fdc" stroke="none" stroke-width="1" />
<circle cx="424.83" cy="75.74" r="1.95" fill="#1e6fdc" stroke="none" stroke-width="1" />
<circle cx="426.45" cy="74.25" r="1.95" fill="#1e6fdc" stroke="none" stroke-width="1" />
<circle cx="428.03" cy="72.73" r="1.95" fill="#1e6fdc" stroke="none" stroke-width="1" />
<circle cx="429.64" cy="70.95" r="1.95" fill="#1e6fdc" stroke="none" stroke-width="1" />
<circle cx="431.25" cy="68.92" r="1.95" fill="#1e6fdc" stroke="none" stroke-width="1" />
<circle cx="432.81" cy="66.59" r="1.95" fill="#1e6fdc" stroke="none" stroke-width="1" />
<circle cx="434.44" cy="64.08" r="1.95" fill="#1e6fdc" stroke="none" stroke-width="1" />
<circle cx="436.08" cy="61.56" r="1.95" fill="#1e6fdc" stroke="none" stroke-width="1" />
<circle cx="437.64" cy="59.01" r="1.95" fill="#1e6fdc" stroke="none" stroke-width="1" />
<circle cx="439.21" cy="55.77" r="1.95" fill="#1e6fdc" stroke="none" stroke-width="1" />
<circle cx="440.82" cy="52.56" r="1.95" fill="#1e6fdc" stroke="none" stroke-width="1" />
<circle cx="442.43" cy="49.34" r="1.95" fill="#1e6fdc" stroke="none" stroke-width="1" />
<circle cx="282.2" cy="134.3" r="1.5" fill="#fff" stroke="#ee3a3e" stroke-width="0.78" />
<circle cx="283.89" cy="131.33" r="1.5" fill="#fff" stroke="#ee3a3e" stroke-width="0.78" />
<circle cx="285.87" cy="128.55" r="1.5" fill="#fff" stroke="#ee3a3e" stroke-width="0.78" />
<circle cx="288.05" cy="125.92" r="1.5" fill="#fff" stroke="#ee3a3e" stroke-width="0.78" />
<circle cx="290.66" cy="123.78" r="1.5" fill="#fff" stroke="#ee3a3e" stroke-width="0.78" />
<circle cx="293.69" cy="122.21" r="1.5" fill="#fff" stroke="#ee3a3e" stroke-width="0.78" />
<circle cx="296.91" cy="121.1" r="1.5" fill="#fff" stroke="#ee3a3e" stroke-width="0.78" />
<circle cx="300.22" cy="120.22" r="1.5" fill="#fff" stroke="#ee3a3e" stroke-width="0.78" />
<circle cx="303.56" cy="119.54" r="1.5" fill="#fff" stroke="#ee3a3e" stroke-width="0.78" />
<circle cx="306.89" cy="118.74" r="1.5" fill="#fff" stroke="#ee3a3e" stroke-width="0.78" />
<circle cx="310.16" cy="117.75" r="1.5" fill="#fff" stroke="#ee3a3e" stroke-width="0.78" />
<circle cx="313.32" cy="116.47" r="1.5" fill="#fff" stroke="#ee3a3e" stroke-width="0.78" />
<circle cx="316.44" cy="115.07" r="1.5" fill="#fff" stroke="#ee3a3e" stroke-width="0.78" />
<circle cx="319.24" cy="113.11" r="1.5" fill="#fff" stroke="#ee3a3e" stroke-width="0.78" />
<circle cx="321.91" cy="110.99" r="1.5" fill="#fff" stroke="#ee3a3e" stroke-width="0.78" />
<circle cx="324.33" cy="108.57" r="1.5" fill="#fff" stroke="#ee3a3e" stroke-width="0.78" />
<circle cx="326.44" cy="105.9" r="1.5" fill="#fff" stroke="#ee3a3e" stroke-width="0.78" />
<circle cx="328.4" cy="103.1" r="1.5" fill="#fff" stroke="#ee3a3e" stroke-width="0.78" />
<circle cx="330.4" cy="100.33" r="1.5" fill="#fff" stroke="#ee3a3e" stroke-width="0.78" />
<circle cx="332.34" cy="97.52" r="1.5" fill="#fff" stroke="#ee3a3e" stroke-width="0.78" />
<circle cx="334.12" cy="94.6" r="1.5" fill="#fff" stroke="#ee3a3e" stroke-width="0.78" />
<circle cx="335.88" cy="91.67" r="1.5" fill="#fff" stroke="#ee3a3e" stroke-width="0.78" />
<circle cx="337.61" cy="88.72" r="1.5" fill="#fff" stroke="#ee3a3e" stroke-width="0.78" />
<circle cx="339.32" cy="85.76" r="1.5" fill="#fff" stroke="#ee3a3e" stroke-width="0.78" />
<circle cx="341.08" cy="82.83" r="1.5" fill="#fff" stroke="#ee3a3e" stroke-width="0.78" />
<circle cx="342.98" cy="79.98" r="1.5" fill="#fff" stroke="#ee3a3e" stroke-width="0.78" />
<circle cx="344.78" cy="77.08" r="1.5" fill="#fff" stroke="#ee3a3e" stroke-width="0.78" />
<circle cx="346.29" cy="74.02" r="1.5" fill="#fff" stroke="#ee3a3e" stroke-width="0.78" />
<circle cx="347.73" cy="70.93" r="1.5" fill="#fff" stroke="#ee3a3e" stroke-width="0.78" />
<circle cx="349.3" cy="67.89" r="1.5" fill="#fff" stroke="#ee3a3e" stroke-width="0.78" />
<circle cx="350.81" cy="64.82" r="1.5" fill="#fff" stroke="#ee3a3e" stroke-width="0.78" />
<circle cx="352.35" cy="61.78" r="1.5" fill="#fff" stroke="#ee3a3e" stroke-width="0.78" />
<circle cx="354.07" cy="58.82" r="1.5" fill="#fff" stroke="#ee3a3e" stroke-width="0.78" />
<circle cx="355.64" cy="55.79" r="1.5" fill="#fff" stroke="#ee3a3e" stroke-width="0.78" />
<circle cx="357.1" cy="52.7" r="1.5" fill="#fff" stroke="#ee3a3e" stroke-width="0.78" />
<circle cx="358.49" cy="49.57" r="1.5" fill="#fff" stroke="#ee3a3e" stroke-width="0.78" />
<circle cx="359.9" cy="46.46" r="1.5" fill="#fff" stroke="#ee3a3e" stroke-width="0.78" />
<circle cx="361.09" cy="43.26" r="1.5" fill="#fff" stroke="#ee3a3e" stroke-width="0.78" />
<circle cx="362.4" cy="40.1" r="1.5" fill="#fff" stroke="#ee3a3e" stroke-width="0.78" />
<circle cx="338.5" cy="128" r="1.5" fill="#fff" stroke="#aa6ddc" stroke-width="0.78" />
<circle cx="340.5" cy="125.24" r="1.5" fill="#fff" stroke="#aa6ddc" stroke-width="0.78" />
<circle cx="342.66" cy="122.61" r="1.5" fill="#fff" stroke="#aa6ddc" stroke-width="0.78" />
<circle cx="345.19" cy="120.35" r="1.5" fill="#fff" stroke="#aa6ddc" stroke-width="0.78" />
<circle cx="347.99" cy="118.43" r="1.5" fill="#fff" stroke="#aa6ddc" stroke-width="0.78" />
<circle cx="350.94" cy="116.74" r="1.5" fill="#fff" stroke="#aa6ddc" stroke-width="0.78" />
<circle cx="354" cy="115.24" r="1.5" fill="#fff" stroke="#aa6ddc" stroke-width="0.78" />
<circle cx="357.1" cy="113.84" r="1.5" fill="#fff" stroke="#aa6ddc" stroke-width="0.78" />
<circle cx="360.23" cy="112.5" r="1.5" fill="#fff" stroke="#aa6ddc" stroke-width="0.78" />
<circle cx="363.29" cy="111.01" r="1.5" fill="#fff" stroke="#aa6ddc" stroke-width="0.78" />
<circle cx="366.33" cy="109.48" r="1.5" fill="#fff" stroke="#aa6ddc" stroke-width="0.78" />
<circle cx="369.26" cy="107.75" r="1.5" fill="#fff" stroke="#aa6ddc" stroke-width="0.78" />
<circle cx="372.15" cy="105.94" r="1.5" fill="#fff" stroke="#aa6ddc" stroke-width="0.78" />
<circle cx="374.91" cy="103.96" r="1.5" fill="#fff" stroke="#aa6ddc" stroke-width="0.78" />
<circle cx="377.56" cy="101.83" r="1.5" fill="#fff" stroke="#aa6ddc" stroke-width="0.78" />
<circle cx="380.1" cy="99.57" r="1.5" fill="#fff" stroke="#aa6ddc" stroke-width="0.78" />
<circle cx="382.48" cy="97.13" r="1.5" fill="#fff" stroke="#aa6ddc" stroke-width="0.78" />
<circle cx="384.32" cy="94.28" r="1.5" fill="#fff" stroke="#aa6ddc" stroke-width="0.78" />
<circle cx="386.03" cy="91.34" r="1.5" fill="#fff" stroke="#aa6ddc" stroke-width="0.78" />
<circle cx="387.58" cy="88.31" r="1.5" fill="#fff" stroke="#aa6ddc" stroke-width="0.78" />
<circle cx="389.26" cy="85.35" r="1.5" fill="#fff" stroke="#aa6ddc" stroke-width="0.78" />
<circle cx="391.13" cy="82.51" r="1.5" fill="#fff" stroke="#aa6ddc" stroke-width="0.78" />
<circle cx="393.18" cy="79.79" r="1.5" fill="#fff" stroke="#aa6ddc" stroke-width="0.78" />
<circle cx="395.4" cy="77.21" r="1.5" fill="#fff" stroke="#aa6ddc" stroke-width="0.78" />
<circle cx="397.54" cy="74.57" r="1.5" fill="#fff" stroke="#aa6ddc" stroke-width="0.78" />
<circle cx="399.39" cy="71.71" r="1.5" fill="#fff" stroke="#aa6ddc" stroke-width="0.78" />
<circle cx="401.23" cy="68.85" r="1.5" fill="#fff" stroke="#aa6ddc" stroke-width="0.78" />
<circle cx="403.03" cy="65.95" r="1.5" fill="#fff" stroke="#aa6ddc" stroke-width="0.78" />
<circle cx="404.74" cy="63.01" r="1.5" fill="#fff" stroke="#aa6ddc" stroke-width="0.78" />
<circle cx="406.41" cy="60.04" r="1.5" fill="#fff" stroke="#aa6ddc" stroke-width="0.78" />
<circle cx="408.02" cy="57.04" r="1.5" fill="#fff" stroke="#aa6ddc" stroke-width="0.78" />
<circle cx="409.51" cy="53.98" r="1.5" fill="#fff" stroke="#aa6ddc" stroke-width="0.78" />
<circle cx="410.81" cy="50.84" r="1.5" fill="#fff" stroke="#aa6ddc" stroke-width="0.78" />
<circle cx="412.07" cy="47.67" r="1.5" fill="#fff" stroke="#aa6ddc" stroke-width="0.78" />
<circle cx="413" cy="44.4" r="1.5" fill="#fff" stroke="#aa6ddc" stroke-width="0.78" />
<circle cx="369.5" cy="129.9" r="1.5" fill="#fff" stroke="#1e6fdc" stroke-width="0.78" />
<circle cx="371.53" cy="127.19" r="1.5" fill="#fff" stroke="#1e6fdc" stroke-width="0.78" />
<circle cx="373.86" cy="124.74" r="1.5" fill="#fff" stroke="#1e6fdc" stroke-width="0.78" />
<circle cx="376.49" cy="122.66" r="1.5" fill="#fff" stroke="#1e6fdc" stroke-width="0.78" />
<circle cx="379.41" cy="120.95" r="1.5" fill="#fff" stroke="#1e6fdc" stroke-width="0.78" />
<circle cx="382.43" cy="119.43" r="1.5" fill="#fff" stroke="#1e6fdc" stroke-width="0.78" />
<circle cx="385.46" cy="117.92" r="1.5" fill="#fff" stroke="#1e6fdc" stroke-width="0.78" />
<circle cx="388.48" cy="116.41" r="1.5" fill="#fff" stroke="#1e6fdc" stroke-width="0.78" />
<circle cx="391.51" cy="114.89" r="1.5" fill="#fff" stroke="#1e6fdc" stroke-width="0.78" />
<circle cx="394.37" cy="113.09" r="1.5" fill="#fff" stroke="#1e6fdc" stroke-width="0.78" />
<circle cx="397.18" cy="111.22" r="1.5" fill="#fff" stroke="#1e6fdc" stroke-width="0.78" />
<circle cx="399.57" cy="108.83" r="1.5" fill="#fff" stroke="#1e6fdc" stroke-width="0.78" />
<circle cx="401.91" cy="106.38" r="1.5" fill="#fff" stroke="#1e6fdc" stroke-width="0.78" />
<circle cx="404.16" cy="103.85" r="1.5" fill="#fff" stroke="#1e6fdc" stroke-width="0.78" />
<circle cx="406.27" cy="101.22" r="1.5" fill="#fff" stroke="#1e6fdc" stroke-width="0.78" />
<circle cx="408.29" cy="98.5" r="1.5" fill="#fff" stroke="#1e6fdc" stroke-width="0.78" />
<circle cx="410.22" cy="95.72" r="1.5" fill="#fff" stroke="#1e6fdc" stroke-width="0.78" />
<circle cx="412.1" cy="92.91" r="1.5" fill="#fff" stroke="#1e6fdc" stroke-width="0.78" />
<circle cx="414.04" cy="90.14" r="1.5" fill="#fff" stroke="#1e6fdc" stroke-width="0.78" />
<circle cx="416.05" cy="87.42" r="1.5" fill="#fff" stroke="#1e6fdc" stroke-width="0.78" />
<circle cx="417.98" cy="84.64" r="1.5" fill="#fff" stroke="#1e6fdc" stroke-width="0.78" />
<circle cx="419.81" cy="81.8" r="1.5" fill="#fff" stroke="#1e6fdc" stroke-width="0.78" />
<circle cx="421.79" cy="79.05" r="1.5" fill="#fff" stroke="#1e6fdc" stroke-width="0.78" />
<circle cx="423.82" cy="76.34" r="1.5" fill="#fff" stroke="#1e6fdc" stroke-width="0.78" />
<circle cx="425.72" cy="73.55" r="1.5" fill="#fff" stroke="#1e6fdc" stroke-width="0.78" />
<circle cx="427.65" cy="70.77" r="1.5" fill="#fff" stroke="#1e6fdc" stroke-width="0.78" />
<circle cx="429.51" cy="67.95" r="1.5" fill="#fff" stroke="#1e6fdc" stroke-width="0.78" />
<circle cx="431.19" cy="65.01" r="1.5" fill="#fff" stroke="#1e6fdc" stroke-width="0.78" />
<circle cx="432.7" cy="61.99" r="1.5" fill="#fff" stroke="#1e6fdc" stroke-width="0.78" />
<circle cx="434.15" cy="58.93" r="1.5" fill="#fff" stroke="#1e6fdc" stroke-width="0.78" />
<circle cx="435.65" cy="55.9" r="1.5" fill="#fff" stroke="#1e6fdc" stroke-width="0.78" />
<circle cx="437.04" cy="52.82" r="1.5" fill="#fff" stroke="#1e6fdc" stroke-width="0.78" />
<circle cx="438.42" cy="49.73" r="1.5" fill="#fff" stroke="#1e6fdc" stroke-width="0.78" />
<circle cx="439.85" cy="46.66" r="1.5" fill="#fff" stroke="#1e6fdc" stroke-width="0.78" />
<circle cx="441.24" cy="43.58" r="1.5" fill="#fff" stroke="#1e6fdc" stroke-width="0.78" />
<circle cx="442.4" cy="40.4" r="1.5" fill="#fff" stroke="#1e6fdc" stroke-width="0.78" />
<line x1="281.2" y1="123.2" x2="299.7" y2="129" stroke="#222" stroke-width="0.9" stroke-dasharray="2.2 1.5"/>
<text x="282" y="120" font-size="7.3" font-weight="bold" font-style="italic">τ<tspan font-size="4.8" dy="1.8">1</tspan></text>
<line x1="338" y1="70.8" x2="356.7" y2="75.8" stroke="#222" stroke-width="0.9" stroke-dasharray="2.2 1.5"/>
<text x="339.2" y="68.8" font-size="7.3" font-weight="bold" font-style="italic">τ<tspan font-size="4.8" dy="1.8">c</tspan></text>
<line x1="336.6" y1="118.4" x2="355.1" y2="123.8" stroke="#222" stroke-width="0.9" stroke-dasharray="2.2 1.5"/>
<text x="338.2" y="114.6" font-size="7.3" font-weight="bold" font-style="italic">τ<tspan font-size="4.8" dy="1.8">1</tspan></text>
<line x1="396.2" y1="58.5" x2="414.7" y2="63.9" stroke="#222" stroke-width="0.9" stroke-dasharray="2.2 1.5"/>
<text x="397" y="56.3" font-size="7.3" font-weight="bold" font-style="italic">τ<tspan font-size="4.8" dy="1.8">c</tspan></text>
<line x1="366.3" y1="121.1" x2="384.7" y2="126.7" stroke="#222" stroke-width="0.9" stroke-dasharray="2.2 1.5"/>
<text x="369.4" y="118.5" font-size="7.3" font-weight="bold" font-style="italic">τ<tspan font-size="4.8" dy="1.8">1</tspan></text>
<line x1="418" y1="68.9" x2="436.7" y2="74.1" stroke="#222" stroke-width="0.9" stroke-dasharray="2.2 1.5"/>
<text x="419.8" y="64.6" font-size="7.3" font-weight="bold" font-style="italic">τ<tspan font-size="4.8" dy="1.8">c</tspan></text>
<text x="467.6" y="11.8" font-size="16.5" text-anchor="start" fill="#000" stroke="#000" font-weight="bold" >c</text>
<rect x="493.1" y="7.2" width="186.1" height="148.9" fill="none" stroke="#000" stroke-width="1.3" />
<line x1="493.1" y1="156.1" x2="493.1" y2="159.1" stroke="#000" stroke-width="1" />
<line x1="506.39" y1="156.1" x2="506.39" y2="157.8" stroke="#000" stroke-width="1" />
<line x1="519.69" y1="156.1" x2="519.69" y2="159.1" stroke="#000" stroke-width="1" />
<line x1="532.98" y1="156.1" x2="532.98" y2="157.8" stroke="#000" stroke-width="1" />
<line x1="546.27" y1="156.1" x2="546.27" y2="159.1" stroke="#000" stroke-width="1" />
<line x1="559.56" y1="156.1" x2="559.56" y2="157.8" stroke="#000" stroke-width="1" />
<line x1="572.86" y1="156.1" x2="572.86" y2="159.1" stroke="#000" stroke-width="1" />
<line x1="586.15" y1="156.1" x2="586.15" y2="157.8" stroke="#000" stroke-width="1" />
<line x1="599.44" y1="156.1" x2="599.44" y2="159.1" stroke="#000" stroke-width="1" />
<line x1="612.74" y1="156.1" x2="612.74" y2="157.8" stroke="#000" stroke-width="1" />
<line x1="626.03" y1="156.1" x2="626.03" y2="159.1" stroke="#000" stroke-width="1" />
<line x1="639.32" y1="156.1" x2="639.32" y2="157.8" stroke="#000" stroke-width="1" />
<line x1="652.61" y1="156.1" x2="652.61" y2="159.1" stroke="#000" stroke-width="1" />
<line x1="665.91" y1="156.1" x2="665.91" y2="157.8" stroke="#000" stroke-width="1" />
<line x1="679.2" y1="156.1" x2="679.2" y2="159.1" stroke="#000" stroke-width="1" />
<text x="493.1" y="167.2" font-size="6.6" text-anchor="middle" fill="#000" stroke="#000" font-weight="bold" >0</text>
<text x="519.69" y="167.2" font-size="6.6" text-anchor="middle" fill="#000" stroke="#000" font-weight="bold" >1</text>
<text x="546.27" y="167.2" font-size="6.6" text-anchor="middle" fill="#000" stroke="#000" font-weight="bold" >2</text>
<text x="572.86" y="167.2" font-size="6.6" text-anchor="middle" fill="#000" stroke="#000" font-weight="bold" >3</text>
<text x="599.44" y="167.2" font-size="6.6" text-anchor="middle" fill="#000" stroke="#000" font-weight="bold" >4</text>
<text x="626.03" y="167.2" font-size="6.6" text-anchor="middle" fill="#000" stroke="#000" font-weight="bold" >5</text>
<text x="652.61" y="167.2" font-size="6.6" text-anchor="middle" fill="#000" stroke="#000" font-weight="bold" >6</text>
<text x="679.2" y="167.2" font-size="6.6" text-anchor="middle" fill="#000" stroke="#000" font-weight="bold" >7</text>
<line x1="493.1" y1="156.1" x2="490.1" y2="156.1" stroke="#000" stroke-width="1" />
<line x1="493.1" y1="145.46" x2="491.4" y2="145.46" stroke="#000" stroke-width="1" />
<line x1="493.1" y1="134.83" x2="490.1" y2="134.83" stroke="#000" stroke-width="1" />
<line x1="493.1" y1="124.19" x2="491.4" y2="124.19" stroke="#000" stroke-width="1" />
<line x1="493.1" y1="113.56" x2="490.1" y2="113.56" stroke="#000" stroke-width="1" />
<line x1="493.1" y1="102.92" x2="491.4" y2="102.92" stroke="#000" stroke-width="1" />
<line x1="493.1" y1="92.29" x2="490.1" y2="92.29" stroke="#000" stroke-width="1" />
<line x1="493.1" y1="81.65" x2="491.4" y2="81.65" stroke="#000" stroke-width="1" />
<line x1="493.1" y1="71.01" x2="490.1" y2="71.01" stroke="#000" stroke-width="1" />
<line x1="493.1" y1="60.38" x2="491.4" y2="60.38" stroke="#000" stroke-width="1" />
<line x1="493.1" y1="49.74" x2="490.1" y2="49.74" stroke="#000" stroke-width="1" />
<line x1="493.1" y1="39.11" x2="491.4" y2="39.11" stroke="#000" stroke-width="1" />
<line x1="493.1" y1="28.47" x2="490.1" y2="28.47" stroke="#000" stroke-width="1" />
<line x1="493.1" y1="17.84" x2="491.4" y2="17.84" stroke="#000" stroke-width="1" />
<line x1="493.1" y1="7.2" x2="490.1" y2="7.2" stroke="#000" stroke-width="1" />
<text x="488.6" y="157.9" font-size="6.6" text-anchor="end" fill="#000" stroke="#000" font-weight="bold" >0</text>
<text x="488.6" y="136.63" font-size="6.6" text-anchor="end" fill="#000" stroke="#000" font-weight="bold" >10</text>
<text x="488.6" y="115.36" font-size="6.6" text-anchor="end" fill="#000" stroke="#000" font-weight="bold" >20</text>
<text x="488.6" y="94.09" font-size="6.6" text-anchor="end" fill="#000" stroke="#000" font-weight="bold" >30</text>
<text x="488.6" y="72.81" font-size="6.6" text-anchor="end" fill="#000" stroke="#000" font-weight="bold" >40</text>
<text x="488.6" y="51.54" font-size="6.6" text-anchor="end" fill="#000" stroke="#000" font-weight="bold" >50</text>
<text x="488.6" y="30.27" font-size="6.6" text-anchor="end" fill="#000" stroke="#000" font-weight="bold" >60</text>
<text x="488.6" y="9" font-size="6.6" text-anchor="end" fill="#000" stroke="#000" font-weight="bold" >70</text>
<text x="586.15" y="180.6" font-size="8.3" text-anchor="middle" fill="#000" stroke="#000" font-weight="bold" >Strain (%)</text>
<text x="477.6" y="81.3" font-size="8.5" text-anchor="middle" fill="#000" stroke="#000" font-weight="bold" transform="rotate(-90 477.6 81.3)" >Stress (MPa)</text>
<path d="M493.1,156.1 C493.58,155.92 494.92,156.35 496,155 C497.08,153.65 497.85,151.17 499.6,148 C501.35,144.83 504.1,140 506.5,136 C508.9,132 510.52,129.17 514,124 C517.48,118.83 523.32,110.83 527.4,105 C531.48,99.17 534.67,94.5 538.5,89 C542.33,83.5 547.63,76.03 550.4,72 C553.17,67.97 553.65,66.57 555.1,64.8 C556.55,63.03 557.88,62.25 559.1,61.4 C560.32,60.55 561.85,59.98 562.4,59.7" fill="none" stroke="#3cb474" stroke-width="1.2" stroke-linejoin="round" stroke-linecap="round" />
<polyline points="562.4,59.7 562.8,72 563.8,110 565,156.1" fill="none" stroke="#3cb474" stroke-width="1.2" stroke-linejoin="round" stroke-linecap="round" />
<path d="M493.1,156.1 C493.67,155.08 493.75,155.35 496.5,150 C499.25,144.65 505.18,131.5 509.6,124 C514.02,116.5 518.93,111 523,105 C527.07,99 530.22,93.82 534,88 C537.78,82.18 542.42,75.2 545.7,70.1 C548.98,65 551.03,61.07 553.7,57.4 C556.37,53.73 559.58,50.38 561.7,48.1 C563.82,45.82 565.1,44.67 566.4,43.7 C567.7,42.73 568.38,42.3 569.5,42.3 C570.62,42.3 571.72,42.85 573.1,43.7 C574.48,44.55 576.35,46.45 577.8,47.4 C579.25,48.35 579.88,48.8 581.8,49.4 C583.72,50 586.5,50.42 589.3,51 C592.1,51.58 597.05,52.58 598.6,52.9" fill="none" stroke="#1e6fdc" stroke-width="1.2" stroke-linejoin="round" stroke-linecap="round" />
<polyline points="598.6,52.9 599.3,60 600.3,110 601.2,156.1" fill="none" stroke="#1e6fdc" stroke-width="1.2" stroke-linejoin="round" stroke-linecap="round" />
<path d="M493.1,156.1 C493.58,155.08 493.52,155.35 496,150 C498.48,144.65 503.78,131.5 508,124 C512.22,116.5 517.55,110.67 521.3,105 C525.05,99.33 527.32,95.03 530.5,90 C533.68,84.97 537.87,78.97 540.4,74.8 C542.93,70.63 544.82,66.63 545.7,65" fill="none" stroke="#ff8a1e" stroke-width="1.2" stroke-linejoin="round" stroke-linecap="round" />
<polyline points="545.7,65 546.3,68 547.4,105 548.3,156.1" fill="none" stroke="#ff8a1e" stroke-width="1.2" stroke-linejoin="round" stroke-linecap="round" />
<path d="M493.1,156.1 C493.47,155.17 493.28,155.77 495.3,150.5 C497.32,145.23 501.73,132.08 505.2,124.5 C508.67,116.92 512.72,111 516.1,105 C519.48,99 522.35,94.08 525.5,88.5 C528.65,82.92 531.63,77.02 535,71.5 C538.37,65.98 542.8,59.3 545.7,55.4 C548.6,51.5 550.55,49.98 552.4,48.1 C554.25,46.22 556.07,44.77 556.8,44.1" fill="none" stroke="#7a8050" stroke-width="1.2" stroke-linejoin="round" stroke-linecap="round" />
<polyline points="556.8,44.1 557.7,72 558.8,120 559.8,156.1" fill="none" stroke="#7a8050" stroke-width="1.2" stroke-linejoin="round" stroke-linecap="round" />
<path d="M493.1,156.1 C493.5,155.17 493.43,155.68 495.5,150.5 C497.57,145.32 501.92,132.58 505.5,125 C509.08,117.42 513.58,111 517,105 C520.42,99 523,94.67 526,89 C529,83.33 532.38,76.27 535,71 C537.62,65.73 539.47,61.12 541.7,57.4 C543.93,53.68 546.4,50.7 548.4,48.7 C550.4,46.7 552.03,46.1 553.7,45.4 C555.37,44.7 556.62,44.38 558.4,44.5 C560.18,44.62 562.4,45.62 564.4,46.1 C566.4,46.58 568.8,47 570.4,47.4 C572,47.8 573.4,48.32 574,48.5" fill="none" stroke="#aa6ddc" stroke-width="1.2" stroke-linejoin="round" stroke-linecap="round" />
<polyline points="574,48.5 574.7,72 576,120 577.2,156.1" fill="none" stroke="#aa6ddc" stroke-width="1.2" stroke-linejoin="round" stroke-linecap="round" />
<path d="M493.1,156.1 C493.5,155.17 493.43,155.68 495.5,150.5 C497.57,145.32 502,132.58 505.5,125 C509,117.42 513.08,111.08 516.5,105 C519.92,98.92 522.92,94 526,88.5 C529.08,83 531.27,78.4 535,72 C538.73,65.6 545.05,55.65 548.4,50.1 C551.75,44.55 553.32,41.48 555.1,38.7 C556.88,35.92 557.83,35.02 559.1,33.4 C560.37,31.78 562.1,29.73 562.7,29" fill="none" stroke="#ee3a3e" stroke-width="1.2" stroke-linejoin="round" stroke-linecap="round" />
<polyline points="562.7,29 563.1,42 563.6,72 564.7,110 566,156.1" fill="none" stroke="#ee3a3e" stroke-width="1.2" stroke-linejoin="round" stroke-linecap="round" />
<line x1="606.3" y1="13.7" x2="622.8" y2="13.7" stroke="#ee3a3e" stroke-width="1.2" />
<text x="624.6" y="16.1" font-size="7" text-anchor="start" fill="#000" stroke="#000" font-weight="bold" >P-SO-PA-132</text>
<line x1="606.3" y1="22.8" x2="622.8" y2="22.8" stroke="#1e6fdc" stroke-width="1.2" />
<text x="624.6" y="25.2" font-size="7" text-anchor="start" fill="#000" stroke="#000" font-weight="bold" >P-VIO-PA-105</text>
<line x1="606.3" y1="31.9" x2="622.8" y2="31.9" stroke="#aa6ddc" stroke-width="1.2" />
<text x="624.6" y="34.3" font-size="7" text-anchor="start" fill="#000" stroke="#000" font-weight="bold" >P-IBO-SO-125</text>
<line x1="606.3" y1="41" x2="622.8" y2="41" stroke="#3cb474" stroke-width="1.2" />
<text x="624.6" y="43.4" font-size="7" text-anchor="start" fill="#000" stroke="#000" font-weight="bold" >PS-110</text>
<line x1="606.3" y1="50.1" x2="622.8" y2="50.1" stroke="#ff8a1e" stroke-width="1.2" />
<text x="624.6" y="52.5" font-size="7" text-anchor="start" fill="#000" stroke="#000" font-weight="bold" >P-SO-PA-63</text>
<line x1="606.3" y1="59.2" x2="622.8" y2="59.2" stroke="#7a8050" stroke-width="1.2" />
<text x="624.6" y="61.6" font-size="7" font-weight="bold">P<tspan font-size="4.9" dy="1.8">c</tspan><tspan dy="-1.8">-IBO-PA-125</tspan></text>
<defs><pattern id="grid" x="0" y="1" width="6" height="7" patternUnits="userSpaceOnUse"><rect width="6" height="7" fill="#c9c4b8"/><path d="M5.6 0V7M0 6.6H6" stroke="#a9a396" stroke-width="0.5"/></pattern><filter id="bl" x="-0.2" y="-0.2" width="1.4" height="1.4"><feGaussianBlur stdDeviation="0.45"/></filter></defs>
<rect x="606.8" y="68.3" width="15.4" height="52.4" fill="url(#grid)" stroke="none" stroke-width="1" />
<rect x="623.7" y="68.3" width="24.3" height="52.4" fill="url(#grid)" stroke="none" stroke-width="1" />
<rect x="649.6" y="68.3" width="13.1" height="52.4" fill="url(#grid)" stroke="none" stroke-width="1" />
<rect x="663.9" y="68.3" width="13.3" height="52.4" fill="url(#grid)" stroke="none" stroke-width="1" />
<polygon points="610.2,69.5 618.8,69.5 618.8,79.5 616.3,87.5 616.3,103.5 618.8,109.5 618.8,119.5 610.2,119.5 610.2,109.5 612.7,103.5 612.7,87.5 610.2,79.5" fill="rgba(214,204,172,0.6)" stroke="none" stroke-width="1" stroke-linejoin="miter" filter="url(#bl)"/>
<polygon points="625.4,69.5 634,69.5 634,79.5 631.5,87.5 631.5,103.5 634,109.5 634,119.5 625.4,119.5 625.4,109.5 627.9,103.5 627.9,87.5 625.4,79.5" fill="rgba(214,206,176,0.5)" stroke="none" stroke-width="1" stroke-linejoin="miter" filter="url(#bl)"/>
<polygon points="636.7,69.5 645.3,69.5 645.3,79.5 642.8,87.5 642.8,103.5 645.3,109.5 645.3,119.5 636.7,119.5 636.7,109.5 639.2,103.5 639.2,87.5 636.7,79.5" fill="rgba(226,218,180,0.75)" stroke="none" stroke-width="1" stroke-linejoin="miter" filter="url(#bl)"/>
<polygon points="651.9,69.5 660.1,69.5 660.1,79.5 657.7,87.5 657.7,103.5 660.1,109.5 660.1,119.5 651.9,119.5 651.9,109.5 654.3,103.5 654.3,87.5 651.9,79.5" fill="rgba(220,210,174,0.65)" stroke="none" stroke-width="1" stroke-linejoin="miter" filter="url(#bl)"/>
<polygon points="666.3,69.5 674.5,69.5 674.5,79.5 672.1,87.5 672.1,103.5 674.5,109.5 674.5,119.5 666.3,119.5 666.3,109.5 668.7,103.5 668.7,87.5 666.3,79.5" fill="rgba(205,200,190,0.45)" stroke="none" stroke-width="1" stroke-linejoin="miter" filter="url(#bl)"/>
<line x1="677.3" y1="68.3" x2="677.3" y2="120.7" stroke="#8a8680" stroke-width="0.7" />
<circle cx="614.2" cy="124.1" r="3.1" fill="#ee3a3e" stroke="none" stroke-width="1" />
<circle cx="629.7" cy="124.1" r="3.1" fill="#aa6ddc" stroke="none" stroke-width="1" />
<circle cx="640.9" cy="124.1" r="3.1" fill="#7a8050" stroke="none" stroke-width="1" />
<circle cx="655.4" cy="124.1" r="3.1" fill="#1e6fdc" stroke="none" stroke-width="1" />
<circle cx="669.3" cy="124.1" r="3.1" fill="#3cb474" stroke="none" stroke-width="1" />
<text x="-0.8" y="201.1" font-size="16.5" text-anchor="start" fill="#000" stroke="#000" font-weight="bold" >d</text>
<line x1="26.6" y1="345.3" x2="23.1" y2="345.3" stroke="#f7921e" stroke-width="1" />
<line x1="26.6" y1="334.66" x2="24.8" y2="334.66" stroke="#f7921e" stroke-width="1" />
<line x1="26.6" y1="324.01" x2="23.1" y2="324.01" stroke="#f7921e" stroke-width="1" />
<line x1="26.6" y1="313.37" x2="24.8" y2="313.37" stroke="#f7921e" stroke-width="1" />
<line x1="26.6" y1="302.73" x2="23.1" y2="302.73" stroke="#f7921e" stroke-width="1" />
<line x1="26.6" y1="292.09" x2="24.8" y2="292.09" stroke="#f7921e" stroke-width="1" />
<line x1="26.6" y1="281.44" x2="23.1" y2="281.44" stroke="#f7921e" stroke-width="1" />
<line x1="26.6" y1="270.8" x2="24.8" y2="270.8" stroke="#f7921e" stroke-width="1" />
<line x1="26.6" y1="260.16" x2="23.1" y2="260.16" stroke="#f7921e" stroke-width="1" />
<line x1="26.6" y1="249.51" x2="24.8" y2="249.51" stroke="#f7921e" stroke-width="1" />
<line x1="26.6" y1="238.87" x2="23.1" y2="238.87" stroke="#f7921e" stroke-width="1" />
<line x1="26.6" y1="228.23" x2="24.8" y2="228.23" stroke="#f7921e" stroke-width="1" />
<line x1="26.6" y1="217.59" x2="23.1" y2="217.59" stroke="#f7921e" stroke-width="1" />
<line x1="26.6" y1="206.94" x2="24.8" y2="206.94" stroke="#f7921e" stroke-width="1" />
<line x1="26.6" y1="196.3" x2="23.1" y2="196.3" stroke="#f7921e" stroke-width="1" />
<text x="20.9" y="347.7" font-size="6.6" text-anchor="end" fill="#f7921e" stroke="#f7921e" font-weight="bold" >0</text>
<text x="20.9" y="326.41" font-size="6.6" text-anchor="end" fill="#f7921e" stroke="#f7921e" font-weight="bold" >10</text>
<text x="20.9" y="305.13" font-size="6.6" text-anchor="end" fill="#f7921e" stroke="#f7921e" font-weight="bold" >20</text>
<text x="20.9" y="283.84" font-size="6.6" text-anchor="end" fill="#f7921e" stroke="#f7921e" font-weight="bold" >30</text>
<text x="20.9" y="262.56" font-size="6.6" text-anchor="end" fill="#f7921e" stroke="#f7921e" font-weight="bold" >40</text>
<text x="20.9" y="241.27" font-size="6.6" text-anchor="end" fill="#f7921e" stroke="#f7921e" font-weight="bold" >50</text>
<text x="20.9" y="219.99" font-size="6.6" text-anchor="end" fill="#f7921e" stroke="#f7921e" font-weight="bold" >60</text>
<text x="20.9" y="198.7" font-size="6.6" text-anchor="end" fill="#f7921e" stroke="#f7921e" font-weight="bold" >70</text>
<line x1="212.3" y1="345.3" x2="215.3" y2="345.3" stroke="#4ab84a" stroke-width="1" />
<line x1="212.3" y1="335.99" x2="214" y2="335.99" stroke="#4ab84a" stroke-width="1" />
<line x1="212.3" y1="326.68" x2="215.3" y2="326.68" stroke="#4ab84a" stroke-width="1" />
<line x1="212.3" y1="317.36" x2="214" y2="317.36" stroke="#4ab84a" stroke-width="1" />
<line x1="212.3" y1="308.05" x2="215.3" y2="308.05" stroke="#4ab84a" stroke-width="1" />
<line x1="212.3" y1="298.74" x2="214" y2="298.74" stroke="#4ab84a" stroke-width="1" />
<line x1="212.3" y1="289.43" x2="215.3" y2="289.43" stroke="#4ab84a" stroke-width="1" />
<line x1="212.3" y1="280.11" x2="214" y2="280.11" stroke="#4ab84a" stroke-width="1" />
<line x1="212.3" y1="270.8" x2="215.3" y2="270.8" stroke="#4ab84a" stroke-width="1" />
<line x1="212.3" y1="261.49" x2="214" y2="261.49" stroke="#4ab84a" stroke-width="1" />
<line x1="212.3" y1="252.18" x2="215.3" y2="252.18" stroke="#4ab84a" stroke-width="1" />
<line x1="212.3" y1="242.86" x2="214" y2="242.86" stroke="#4ab84a" stroke-width="1" />
<line x1="212.3" y1="233.55" x2="215.3" y2="233.55" stroke="#4ab84a" stroke-width="1" />
<line x1="212.3" y1="224.24" x2="214" y2="224.24" stroke="#4ab84a" stroke-width="1" />
<line x1="212.3" y1="214.93" x2="215.3" y2="214.93" stroke="#4ab84a" stroke-width="1" />
<line x1="212.3" y1="205.61" x2="214" y2="205.61" stroke="#4ab84a" stroke-width="1" />
<line x1="212.3" y1="196.3" x2="215.3" y2="196.3" stroke="#4ab84a" stroke-width="1" />
<text x="218.1" y="347.7" font-size="6.6" text-anchor="start" fill="#4ab84a" stroke="#4ab84a" font-weight="bold" >0.0</text>
<text x="218.1" y="329.07" font-size="6.6" text-anchor="start" fill="#4ab84a" stroke="#4ab84a" font-weight="bold" >0.5</text>
<text x="218.1" y="310.45" font-size="6.6" text-anchor="start" fill="#4ab84a" stroke="#4ab84a" font-weight="bold" >1.0</text>
<text x="218.1" y="291.82" font-size="6.6" text-anchor="start" fill="#4ab84a" stroke="#4ab84a" font-weight="bold" >1.5</text>
<text x="218.1" y="273.2" font-size="6.6" text-anchor="start" fill="#4ab84a" stroke="#4ab84a" font-weight="bold" >2.0</text>
<text x="218.1" y="254.58" font-size="6.6" text-anchor="start" fill="#4ab84a" stroke="#4ab84a" font-weight="bold" >2.5</text>
<text x="218.1" y="235.95" font-size="6.6" text-anchor="start" fill="#4ab84a" stroke="#4ab84a" font-weight="bold" >3.0</text>
<text x="218.1" y="217.33" font-size="6.6" text-anchor="start" fill="#4ab84a" stroke="#4ab84a" font-weight="bold" >3.5</text>
<text x="218.1" y="198.7" font-size="6.6" text-anchor="start" fill="#4ab84a" stroke="#4ab84a" font-weight="bold" >4.0</text>
<text x="8.2" y="270.7" font-size="8.5" text-anchor="middle" fill="#f7921e" stroke="#f7921e" font-weight="bold" transform="rotate(-90 8.2 270.7)" >Stress (MPa)</text>
<text x="237.5" y="269.3" font-size="7.9" text-anchor="middle" fill="#4ab84a" stroke="#4ab84a" font-weight="bold" transform="rotate(-90 237.5 269.3)" >Modulus (GPa)</text>
<rect x="29.8" y="219.93" width="10.6" height="125.37" fill="#fbc793" stroke="#bdbdbd" stroke-width="0.7" />
<rect x="42.6" y="254.78" width="11.3" height="90.52" fill="#a0d69b" stroke="#bdbdbd" stroke-width="0.7" />
<line x1="35.1" y1="218.44" x2="35.1" y2="221.42" stroke="#111" stroke-width="1.2" />
<line x1="33.2" y1="218.44" x2="37" y2="218.44" stroke="#111" stroke-width="1.2" />
<line x1="33.2" y1="221.42" x2="37" y2="221.42" stroke="#111" stroke-width="1.2" />
<line x1="48.25" y1="251.06" x2="48.25" y2="258.51" stroke="#111" stroke-width="1.2" />
<line x1="46.35" y1="251.06" x2="50.15" y2="251.06" stroke="#111" stroke-width="1.2" />
<line x1="46.35" y1="258.51" x2="50.15" y2="258.51" stroke="#111" stroke-width="1.2" />
<text x="35.1" y="217.24" font-size="6.3" text-anchor="middle" fill="#f7921e" stroke="#f7921e" font-weight="bold" >58.9</text>
<text x="48.25" y="249.86" font-size="6.3" text-anchor="middle" fill="#4ab84a" stroke="#4ab84a" font-weight="bold" >2.43</text>
<line x1="41.4" y1="345.3" x2="41.4" y2="348.3" stroke="#000" stroke-width="1" />
<line x1="25.9" y1="345.3" x2="25.9" y2="347" stroke="#000" stroke-width="1" />
<text x="43.8" y="355.3" font-size="5.9" text-anchor="end" fill="#000" stroke="#000" font-weight="bold" transform="rotate(-26 43.8 355.3)" >P-SO-PA-132</text>
<rect x="60.8" y="232.27" width="10.6" height="113.03" fill="#fbc793" stroke="#bdbdbd" stroke-width="0.7" />
<rect x="73.6" y="264.84" width="11.3" height="80.46" fill="#a0d69b" stroke="#bdbdbd" stroke-width="0.7" />
<line x1="66.1" y1="230.14" x2="66.1" y2="234.4" stroke="#111" stroke-width="1.2" />
<line x1="64.2" y1="230.14" x2="68" y2="230.14" stroke="#111" stroke-width="1.2" />
<line x1="64.2" y1="234.4" x2="68" y2="234.4" stroke="#111" stroke-width="1.2" />
<line x1="79.25" y1="262.05" x2="79.25" y2="267.63" stroke="#111" stroke-width="1.2" />
<line x1="77.35" y1="262.05" x2="81.15" y2="262.05" stroke="#111" stroke-width="1.2" />
<line x1="77.35" y1="267.63" x2="81.15" y2="267.63" stroke="#111" stroke-width="1.2" />
<text x="66.1" y="228.94" font-size="6.3" text-anchor="middle" fill="#f7921e" stroke="#f7921e" font-weight="bold" >53.1</text>
<text x="79.25" y="260.85" font-size="6.3" text-anchor="middle" fill="#4ab84a" stroke="#4ab84a" font-weight="bold" >2.16</text>
<line x1="72.4" y1="345.3" x2="72.4" y2="348.3" stroke="#000" stroke-width="1" />
<line x1="56.9" y1="345.3" x2="56.9" y2="347" stroke="#000" stroke-width="1" />
<text x="74.8" y="355.3" font-size="5.9" text-anchor="end" fill="#000" stroke="#000" font-weight="bold" transform="rotate(-26 74.8 355.3)" >P-VIO-PA-105</text>
<rect x="91.8" y="231" width="10.6" height="114.3" fill="#fbc793" stroke="#bdbdbd" stroke-width="0.7" />
<rect x="104.6" y="247.71" width="11.3" height="97.59" fill="#a0d69b" stroke="#bdbdbd" stroke-width="0.7" />
<line x1="97.1" y1="224.4" x2="97.1" y2="237.59" stroke="#111" stroke-width="1.2" />
<line x1="95.2" y1="224.4" x2="99" y2="224.4" stroke="#111" stroke-width="1.2" />
<line x1="95.2" y1="237.59" x2="99" y2="237.59" stroke="#111" stroke-width="1.2" />
<line x1="110.25" y1="234.3" x2="110.25" y2="261.12" stroke="#111" stroke-width="1.2" />
<line x1="108.35" y1="234.3" x2="112.15" y2="234.3" stroke="#111" stroke-width="1.2" />
<line x1="108.35" y1="261.12" x2="112.15" y2="261.12" stroke="#111" stroke-width="1.2" />
<text x="97.1" y="223.2" font-size="6.3" text-anchor="middle" fill="#f7921e" stroke="#f7921e" font-weight="bold" >53.7</text>
<text x="110.25" y="233.1" font-size="6.3" text-anchor="middle" fill="#4ab84a" stroke="#4ab84a" font-weight="bold" >2.62</text>
<line x1="103.4" y1="345.3" x2="103.4" y2="348.3" stroke="#000" stroke-width="1" />
<line x1="87.9" y1="345.3" x2="87.9" y2="347" stroke="#000" stroke-width="1" />
<text x="105.8" y="355.3" font-size="5.9" text-anchor="end" fill="#000" stroke="#000" font-weight="bold" transform="rotate(-26 105.8 355.3)" >P-IBO-PA-125</text>
<rect x="122.8" y="248.88" width="10.6" height="96.42" fill="#fbc793" stroke="#bdbdbd" stroke-width="0.7" />
<rect x="135.6" y="268.56" width="11.3" height="76.74" fill="#a0d69b" stroke="#bdbdbd" stroke-width="0.7" />
<line x1="128.1" y1="247.71" x2="128.1" y2="250.05" stroke="#111" stroke-width="1.2" />
<line x1="126.2" y1="247.71" x2="130" y2="247.71" stroke="#111" stroke-width="1.2" />
<line x1="126.2" y1="250.05" x2="130" y2="250.05" stroke="#111" stroke-width="1.2" />
<line x1="141.25" y1="263.35" x2="141.25" y2="273.78" stroke="#111" stroke-width="1.2" />
<line x1="139.35" y1="263.35" x2="143.15" y2="263.35" stroke="#111" stroke-width="1.2" />
<line x1="139.35" y1="273.78" x2="143.15" y2="273.78" stroke="#111" stroke-width="1.2" />
<text x="128.1" y="246.51" font-size="6.3" text-anchor="middle" fill="#f7921e" stroke="#f7921e" font-weight="bold" >45.3</text>
<text x="141.25" y="262.15" font-size="6.3" text-anchor="middle" fill="#4ab84a" stroke="#4ab84a" font-weight="bold" >2.06</text>
<line x1="134.4" y1="345.3" x2="134.4" y2="348.3" stroke="#000" stroke-width="1" />
<line x1="118.9" y1="345.3" x2="118.9" y2="347" stroke="#000" stroke-width="1" />
<text x="136.8" y="355.3" font-size="5.9" text-anchor="end" fill="#000" stroke="#000" font-weight="bold" transform="rotate(-26 136.8 355.3)" >PS-110</text>
<rect x="153.8" y="259.94" width="10.6" height="85.36" fill="#fbc793" stroke="#bdbdbd" stroke-width="0.7" />
<rect x="166.6" y="257.39" width="11.3" height="87.91" fill="#a0d69b" stroke="#bdbdbd" stroke-width="0.7" />
<line x1="159.1" y1="252.71" x2="159.1" y2="267.18" stroke="#111" stroke-width="1.2" />
<line x1="157.2" y1="252.71" x2="161" y2="252.71" stroke="#111" stroke-width="1.2" />
<line x1="157.2" y1="267.18" x2="161" y2="267.18" stroke="#111" stroke-width="1.2" />
<line x1="172.25" y1="250.69" x2="172.25" y2="264.1" stroke="#111" stroke-width="1.2" />
<line x1="170.35" y1="250.69" x2="174.15" y2="250.69" stroke="#111" stroke-width="1.2" />
<line x1="170.35" y1="264.1" x2="174.15" y2="264.1" stroke="#111" stroke-width="1.2" />
<text x="159.1" y="251.51" font-size="6.3" text-anchor="middle" fill="#f7921e" stroke="#f7921e" font-weight="bold" >40.1</text>
<text x="172.25" y="249.49" font-size="6.3" text-anchor="middle" fill="#4ab84a" stroke="#4ab84a" font-weight="bold" >2.36</text>
<line x1="165.4" y1="345.3" x2="165.4" y2="348.3" stroke="#000" stroke-width="1" />
<line x1="149.9" y1="345.3" x2="149.9" y2="347" stroke="#000" stroke-width="1" />
<text x="167.8" y="355.3" font-size="5.9" text-anchor="end" fill="#000" stroke="#000" font-weight="bold" transform="rotate(-26 167.8 355.3)" >P-SO-PA-63</text>
<rect x="184.8" y="234.83" width="10.6" height="110.47" fill="#fbc793" stroke="#bdbdbd" stroke-width="0.7" />
<rect x="197.6" y="232.81" width="11.3" height="112.5" fill="#a0d69b" stroke="#bdbdbd" stroke-width="0.7" />
<line x1="190.1" y1="226.31" x2="190.1" y2="243.34" stroke="#111" stroke-width="1.2" />
<line x1="188.2" y1="226.31" x2="192" y2="226.31" stroke="#111" stroke-width="1.2" />
<line x1="188.2" y1="243.34" x2="192" y2="243.34" stroke="#111" stroke-width="1.2" />
<line x1="203.25" y1="223.12" x2="203.25" y2="242.49" stroke="#111" stroke-width="1.2" />
<line x1="201.35" y1="223.12" x2="205.15" y2="223.12" stroke="#111" stroke-width="1.2" />
<line x1="201.35" y1="242.49" x2="205.15" y2="242.49" stroke="#111" stroke-width="1.2" />
<text x="190.1" y="225.11" font-size="6.3" text-anchor="middle" fill="#f7921e" stroke="#f7921e" font-weight="bold" >51.9</text>
<text x="203.25" y="221.92" font-size="6.3" text-anchor="middle" fill="#4ab84a" stroke="#4ab84a" font-weight="bold" >3.02</text>
<line x1="196.4" y1="345.3" x2="196.4" y2="348.3" stroke="#000" stroke-width="1" />
<line x1="180.9" y1="345.3" x2="180.9" y2="347" stroke="#000" stroke-width="1" />
<line x1="211.9" y1="345.3" x2="211.9" y2="347" stroke="#000" stroke-width="1" />
<line x1="26.6" y1="196.3" x2="212.3" y2="196.3" stroke="#000" stroke-width="1.3" />
<line x1="26.6" y1="345.3" x2="212.3" y2="345.3" stroke="#000" stroke-width="1.3" />
<line x1="26.6" y1="195.8" x2="26.6" y2="345.8" stroke="#f7921e" stroke-width="1.3" />
<line x1="212.3" y1="195.8" x2="212.3" y2="345.8" stroke="#4ab84a" stroke-width="1.3" />
<text x="198.8" y="355.3" font-size="5.9" font-weight="bold" text-anchor="end" transform="rotate(-26 198.8 355.3)">P<tspan font-size="3.9" dy="1.4">c</tspan><tspan dy="-1.4">-IBO-PA-125</tspan></text>
<text x="241.6" y="201.2" font-size="16.5" text-anchor="start" fill="#000" stroke="#000" font-weight="bold" >e</text>
<polygon points="360.6,208.84 411.28,251.54 413.97,311.61 360.6,337.2 315.85,306.63 318.01,256.21" fill="rgba(238,58,62,0.2)" stroke="none" stroke-width="1" stroke-linejoin="miter" />
<polygon points="360.6,223.28 389.17,264.3 397.15,301.9 360.6,334.4 330.41,298.23 319.63,257.15" fill="rgba(30,111,220,0.2)" stroke="none" stroke-width="1" stroke-linejoin="miter" />
<polygon points="360.6,221.79 393.49,261.81 405.88,306.94 360.6,327.11 305.61,312.55 318.55,256.52" fill="rgba(170,109,220,0.2)" stroke="none" stroke-width="1" stroke-linejoin="miter" />
<polygon points="360.6,242.7 416.67,248.43 422.38,316.47 360.6,352.14 335.8,295.12 306.15,249.36" fill="rgba(60,180,116,0.2)" stroke="none" stroke-width="1" stroke-linejoin="miter" />
<polygon points="360.6,268.35 371.38,274.57 371.38,287.03 360.6,293.25 349.82,287.03 349.82,274.57" fill="none" stroke="#555" stroke-width="0.75" stroke-linejoin="miter" stroke-dasharray="2 1.6"/>
<polygon points="360.6,255.9 382.16,268.35 382.16,293.25 360.6,305.7 339.04,293.25 339.04,268.35" fill="none" stroke="#555" stroke-width="0.75" stroke-linejoin="miter" stroke-dasharray="2 1.6"/>
<polygon points="360.6,243.45 392.95,262.12 392.95,299.48 360.6,318.15 328.25,299.48 328.25,262.12" fill="none" stroke="#555" stroke-width="0.75" stroke-linejoin="miter" stroke-dasharray="2 1.6"/>
<polygon points="360.6,231 403.73,255.9 403.73,305.7 360.6,330.6 317.47,305.7 317.47,255.9" fill="none" stroke="#555" stroke-width="0.75" stroke-linejoin="miter" stroke-dasharray="2 1.6"/>
<polygon points="360.6,218.55 414.51,249.68 414.51,311.93 360.6,343.05 306.69,311.93 306.69,249.68" fill="none" stroke="#555" stroke-width="0.75" stroke-linejoin="miter" stroke-dasharray="2 1.6"/>
<polygon points="360.6,206.1 425.29,243.45 425.29,318.15 360.6,355.5 295.91,318.15 295.91,243.45" fill="none" stroke="#555" stroke-width="0.75" stroke-linejoin="miter" stroke-dasharray="2 1.6"/>
<polygon points="360.6,208.84 411.28,251.54 413.97,311.61 360.6,337.2 315.85,306.63 318.01,256.21" fill="none" stroke="#ee3a3e" stroke-width="1.1" stroke-linejoin="miter" stroke-linejoin="round"/>
<polygon points="360.6,223.28 389.17,264.3 397.15,301.9 360.6,334.4 330.41,298.23 319.63,257.15" fill="none" stroke="#1e6fdc" stroke-width="1.1" stroke-linejoin="miter" stroke-linejoin="round"/>
<polygon points="360.6,221.79 393.49,261.81 405.88,306.94 360.6,327.11 305.61,312.55 318.55,256.52" fill="none" stroke="#aa6ddc" stroke-width="1.1" stroke-linejoin="miter" stroke-linejoin="round"/>
<polygon points="360.6,242.7 416.67,248.43 422.38,316.47 360.6,352.14 335.8,295.12 306.15,249.36" fill="none" stroke="#3cb474" stroke-width="1.1" stroke-linejoin="miter" stroke-linejoin="round"/>
<line x1="360.6" y1="280.8" x2="360.6" y2="206.1" stroke="#000" stroke-width="1.3" />
<line x1="360.6" y1="280.8" x2="425.29" y2="243.45" stroke="#000" stroke-width="1.3" />
<line x1="360.6" y1="280.8" x2="425.29" y2="318.15" stroke="#000" stroke-width="1.3" />
<line x1="360.6" y1="280.8" x2="360.6" y2="355.5" stroke="#000" stroke-width="1.3" />
<line x1="360.6" y1="280.8" x2="295.91" y2="318.15" stroke="#000" stroke-width="1.3" />
<line x1="360.6" y1="280.8" x2="295.91" y2="243.45" stroke="#000" stroke-width="1.3" />
<circle cx="360.6" cy="280.8" r="1.2" fill="#000" stroke="none" stroke-width="1" />
<text x="359.4" y="270.65" font-size="6.3" text-anchor="end" fill="#000" stroke="#000" font-weight="bold" >35</text>
<text x="359.4" y="258.2" font-size="6.3" text-anchor="end" fill="#000" stroke="#000" font-weight="bold" >40</text>
<text x="359.4" y="245.75" font-size="6.3" text-anchor="end" fill="#000" stroke="#000" font-weight="bold" >45</text>
<text x="359.4" y="233.3" font-size="6.3" text-anchor="end" fill="#000" stroke="#000" font-weight="bold" >50</text>
<text x="359.4" y="220.85" font-size="6.3" text-anchor="end" fill="#000" stroke="#000" font-weight="bold" >55</text>
<text x="359.4" y="208.4" font-size="6.3" text-anchor="end" fill="#000" stroke="#000" font-weight="bold" >60</text>
<text x="370.68" y="271.77" font-size="6.3" text-anchor="end" fill="#000" stroke="#000" font-weight="bold" >20</text>
<text x="381.46" y="265.55" font-size="6.3" text-anchor="end" fill="#000" stroke="#000" font-weight="bold" >40</text>
<text x="392.25" y="259.32" font-size="6.3" text-anchor="end" fill="#000" stroke="#000" font-weight="bold" >60</text>
<text x="403.03" y="253.1" font-size="6.3" text-anchor="end" fill="#000" stroke="#000" font-weight="bold" >80</text>
<text x="413.81" y="246.88" font-size="6.3" text-anchor="end" fill="#000" stroke="#000" font-weight="bold" >100</text>
<text x="424.59" y="240.65" font-size="6.3" text-anchor="end" fill="#000" stroke="#000" font-weight="bold" >120</text>
<text x="378.27" y="287.64" font-size="6.3" text-anchor="start" fill="#000" stroke="#000" font-weight="bold" >50</text>
<text x="394.45" y="296.98" font-size="6.3" text-anchor="start" fill="#000" stroke="#000" font-weight="bold" >100</text>
<text x="410.62" y="306.31" font-size="6.3" text-anchor="start" fill="#000" stroke="#000" font-weight="bold" >150</text>
<text x="426.79" y="315.65" font-size="6.3" text-anchor="start" fill="#000" stroke="#000" font-weight="bold" >200</text>
<text x="362.3" y="301.88" font-size="6.3" text-anchor="start" fill="#000" stroke="#000" font-weight="bold" >100</text>
<text x="362.3" y="320.55" font-size="6.3" text-anchor="start" fill="#000" stroke="#000" font-weight="bold" >200</text>
<text x="362.3" y="339.23" font-size="6.3" text-anchor="start" fill="#000" stroke="#000" font-weight="bold" >300</text>
<text x="362.3" y="357.9" font-size="6.3" text-anchor="start" fill="#000" stroke="#000" font-weight="bold" >400</text>
<text x="350.32" y="294.23" font-size="6.3" text-anchor="start" fill="#000" stroke="#000" font-weight="bold" >1.8</text>
<text x="339.54" y="300.45" font-size="6.3" text-anchor="start" fill="#000" stroke="#000" font-weight="bold" >2.0</text>
<text x="328.75" y="306.68" font-size="6.3" text-anchor="start" fill="#000" stroke="#000" font-weight="bold" >2.2</text>
<text x="317.97" y="312.9" font-size="6.3" text-anchor="start" fill="#000" stroke="#000" font-weight="bold" >2.4</text>
<text x="307.19" y="319.12" font-size="6.3" text-anchor="start" fill="#000" stroke="#000" font-weight="bold" >2.6</text>
<text x="296.41" y="325.35" font-size="6.3" text-anchor="start" fill="#000" stroke="#000" font-weight="bold" >2.8</text>
<text x="348.62" y="281.77" font-size="6.3" text-anchor="end" fill="#000" stroke="#000" font-weight="bold" >20</text>
<text x="337.84" y="275.55" font-size="6.3" text-anchor="end" fill="#000" stroke="#000" font-weight="bold" >40</text>
<text x="327.05" y="269.32" font-size="6.3" text-anchor="end" fill="#000" stroke="#000" font-weight="bold" >60</text>
<text x="316.27" y="263.1" font-size="6.3" text-anchor="end" fill="#000" stroke="#000" font-weight="bold" >80</text>
<text x="305.49" y="256.88" font-size="6.3" text-anchor="end" fill="#000" stroke="#000" font-weight="bold" >100</text>
<text x="294.71" y="250.65" font-size="6.3" text-anchor="end" fill="#000" stroke="#000" font-weight="bold" >120</text>
<text x="360.5" y="196.9" font-size="7.9" text-anchor="middle" fill="#000" stroke="#000" font-weight="bold" >Stress (MPa)</text>
<text x="433.2" y="236.8" font-size="7.9" fill="#000" stroke="#000" font-weight="bold" text-anchor="start" ><tspan font-style="italic">T</tspan><tspan font-size="5.53" dy="1.74">g</tspan><tspan dy="-1.74"> (°C)</tspan></text>
<text x="433.2" y="329.4" font-size="7.9" fill="#000" stroke="#000" font-weight="bold" text-anchor="start" ><tspan font-style="italic">T</tspan><tspan font-size="5.53" dy="1.74">f</tspan><tspan dy="-1.74"> (°C)</tspan></text>
<text x="343" y="370.7" font-size="7.9" fill="#000" stroke="#000" font-weight="bold" text-anchor="start" ><tspan font-style="italic">T</tspan><tspan font-size="5.53" dy="1.74">d(5%)</tspan><tspan dy="-1.74"> (°C)</tspan></text>
<text x="273.1" y="329" font-size="7.9" text-anchor="middle" fill="#000" stroke="#000" font-weight="bold" >Modulus</text>
<text x="272.9" y="339.3" font-size="7.9" text-anchor="middle" fill="#000" stroke="#000" font-weight="bold" >(GPa)</text>
<text x="279.8" y="228.2" font-size="7.9" text-anchor="middle" fill="#000" stroke="#000" font-weight="bold" >Water contact</text>
<text x="281.1" y="238.1" font-size="7.9" text-anchor="middle" fill="#000" stroke="#000" font-weight="bold" >angle (°)</text>
<rect x="399.2" y="191.9" width="13.7" height="6.4" fill="#fadadb" stroke="#ee3a3e" stroke-width="1" />
<text x="415.5" y="197.8" font-size="6.3" text-anchor="start" fill="#000" stroke="#000" font-weight="bold" >P-SO-PA-132</text>
<rect x="399.2" y="200.15" width="13.7" height="6.4" fill="#d6e3f8" stroke="#1e6fdc" stroke-width="1" />
<text x="415.5" y="206.05" font-size="6.3" text-anchor="start" fill="#000" stroke="#000" font-weight="bold" >P-VIO-PA-105</text>
<rect x="399.2" y="208.4" width="13.7" height="6.4" fill="#eee0f8" stroke="#aa6ddc" stroke-width="1" />
<text x="415.5" y="214.3" font-size="6.3" text-anchor="start" fill="#000" stroke="#000" font-weight="bold" >P-IBO-PA-125</text>
<rect x="399.2" y="216.65" width="13.7" height="6.4" fill="#d6efde" stroke="#3cb474" stroke-width="1" />
<text x="415.5" y="222.55" font-size="6.3" text-anchor="start" fill="#000" stroke="#000" font-weight="bold" >PS-110</text>
<text x="471.6" y="199.6" font-size="16.5" text-anchor="start" fill="#000" stroke="#000" font-weight="bold" >f</text>
<rect x="492.9" y="196.4" width="186" height="149.4" fill="none" stroke="#000" stroke-width="1.3" />
<line x1="492.9" y1="345.8" x2="492.9" y2="348.8" stroke="#000" stroke-width="1" />
<line x1="502.2" y1="345.8" x2="502.2" y2="347.5" stroke="#000" stroke-width="1" />
<line x1="511.5" y1="345.8" x2="511.5" y2="348.8" stroke="#000" stroke-width="1" />
<line x1="520.8" y1="345.8" x2="520.8" y2="347.5" stroke="#000" stroke-width="1" />
<line x1="530.1" y1="345.8" x2="530.1" y2="348.8" stroke="#000" stroke-width="1" />
<line x1="539.4" y1="345.8" x2="539.4" y2="347.5" stroke="#000" stroke-width="1" />
<line x1="548.7" y1="345.8" x2="548.7" y2="348.8" stroke="#000" stroke-width="1" />
<line x1="558" y1="345.8" x2="558" y2="347.5" stroke="#000" stroke-width="1" />
<line x1="567.3" y1="345.8" x2="567.3" y2="348.8" stroke="#000" stroke-width="1" />
<line x1="576.6" y1="345.8" x2="576.6" y2="347.5" stroke="#000" stroke-width="1" />
<line x1="585.9" y1="345.8" x2="585.9" y2="348.8" stroke="#000" stroke-width="1" />
<line x1="595.2" y1="345.8" x2="595.2" y2="347.5" stroke="#000" stroke-width="1" />
<line x1="604.5" y1="345.8" x2="604.5" y2="348.8" stroke="#000" stroke-width="1" />
<line x1="613.8" y1="345.8" x2="613.8" y2="347.5" stroke="#000" stroke-width="1" />
<line x1="623.1" y1="345.8" x2="623.1" y2="348.8" stroke="#000" stroke-width="1" />
<line x1="632.4" y1="345.8" x2="632.4" y2="347.5" stroke="#000" stroke-width="1" />
<line x1="641.7" y1="345.8" x2="641.7" y2="348.8" stroke="#000" stroke-width="1" />
<line x1="651" y1="345.8" x2="651" y2="347.5" stroke="#000" stroke-width="1" />
<line x1="660.3" y1="345.8" x2="660.3" y2="348.8" stroke="#000" stroke-width="1" />
<line x1="669.6" y1="345.8" x2="669.6" y2="347.5" stroke="#000" stroke-width="1" />
<line x1="678.9" y1="345.8" x2="678.9" y2="348.8" stroke="#000" stroke-width="1" />
<text x="491.9" y="356.3" font-size="6.6" text-anchor="middle" fill="#000" stroke="#000" font-weight="bold" >−40</text>
<text x="510.5" y="356.3" font-size="6.6" text-anchor="middle" fill="#000" stroke="#000" font-weight="bold" >−20</text>
<text x="530.1" y="356.3" font-size="6.6" text-anchor="middle" fill="#000" stroke="#000" font-weight="bold" >0</text>
<text x="548.7" y="356.3" font-size="6.6" text-anchor="middle" fill="#000" stroke="#000" font-weight="bold" >20</text>
<text x="567.3" y="356.3" font-size="6.6" text-anchor="middle" fill="#000" stroke="#000" font-weight="bold" >40</text>
<text x="585.9" y="356.3" font-size="6.6" text-anchor="middle" fill="#000" stroke="#000" font-weight="bold" >60</text>
<text x="604.5" y="356.3" font-size="6.6" text-anchor="middle" fill="#000" stroke="#000" font-weight="bold" >80</text>
<text x="623.1" y="356.3" font-size="6.6" text-anchor="middle" fill="#000" stroke="#000" font-weight="bold" >100</text>
<text x="641.7" y="356.3" font-size="6.6" text-anchor="middle" fill="#000" stroke="#000" font-weight="bold" >120</text>
<text x="660.3" y="356.3" font-size="6.6" text-anchor="middle" fill="#000" stroke="#000" font-weight="bold" >140</text>
<text x="678.9" y="356.3" font-size="6.6" text-anchor="middle" fill="#000" stroke="#000" font-weight="bold" >160</text>
<line x1="492.9" y1="345.8" x2="489.9" y2="345.8" stroke="#000" stroke-width="1" />
<line x1="492.9" y1="338.33" x2="491.2" y2="338.33" stroke="#000" stroke-width="1" />
<line x1="492.9" y1="330.86" x2="489.9" y2="330.86" stroke="#000" stroke-width="1" />
<line x1="492.9" y1="323.39" x2="491.2" y2="323.39" stroke="#000" stroke-width="1" />
<line x1="492.9" y1="315.92" x2="489.9" y2="315.92" stroke="#000" stroke-width="1" />
<line x1="492.9" y1="308.45" x2="491.2" y2="308.45" stroke="#000" stroke-width="1" />
<line x1="492.9" y1="300.98" x2="489.9" y2="300.98" stroke="#000" stroke-width="1" />
<line x1="492.9" y1="293.51" x2="491.2" y2="293.51" stroke="#000" stroke-width="1" />
<line x1="492.9" y1="286.04" x2="489.9" y2="286.04" stroke="#000" stroke-width="1" />
<line x1="492.9" y1="278.57" x2="491.2" y2="278.57" stroke="#000" stroke-width="1" />
<line x1="492.9" y1="271.1" x2="489.9" y2="271.1" stroke="#000" stroke-width="1" />
<line x1="492.9" y1="263.63" x2="491.2" y2="263.63" stroke="#000" stroke-width="1" />
<line x1="492.9" y1="256.16" x2="489.9" y2="256.16" stroke="#000" stroke-width="1" />
<line x1="492.9" y1="248.69" x2="491.2" y2="248.69" stroke="#000" stroke-width="1" />
<line x1="492.9" y1="241.22" x2="489.9" y2="241.22" stroke="#000" stroke-width="1" />
<line x1="492.9" y1="233.75" x2="491.2" y2="233.75" stroke="#000" stroke-width="1" />
<line x1="492.9" y1="226.28" x2="489.9" y2="226.28" stroke="#000" stroke-width="1" />
<line x1="492.9" y1="218.81" x2="491.2" y2="218.81" stroke="#000" stroke-width="1" />
<line x1="492.9" y1="211.34" x2="489.9" y2="211.34" stroke="#000" stroke-width="1" />
<line x1="492.9" y1="203.87" x2="491.2" y2="203.87" stroke="#000" stroke-width="1" />
<line x1="492.9" y1="196.4" x2="489.9" y2="196.4" stroke="#000" stroke-width="1" />
<text x="488.4" y="348.2" font-size="6.6" text-anchor="end" fill="#000" stroke="#000" font-weight="bold" >15</text>
<text x="488.4" y="333.26" font-size="6.6" text-anchor="end" fill="#000" stroke="#000" font-weight="bold" >20</text>
<text x="488.4" y="318.32" font-size="6.6" text-anchor="end" fill="#000" stroke="#000" font-weight="bold" >25</text>
<text x="488.4" y="303.38" font-size="6.6" text-anchor="end" fill="#000" stroke="#000" font-weight="bold" >30</text>
<text x="488.4" y="288.44" font-size="6.6" text-anchor="end" fill="#000" stroke="#000" font-weight="bold" >35</text>
<text x="488.4" y="273.5" font-size="6.6" text-anchor="end" fill="#000" stroke="#000" font-weight="bold" >40</text>
<text x="488.4" y="258.56" font-size="6.6" text-anchor="end" fill="#000" stroke="#000" font-weight="bold" >45</text>
<text x="488.4" y="243.62" font-size="6.6" text-anchor="end" fill="#000" stroke="#000" font-weight="bold" >50</text>
<text x="488.4" y="228.68" font-size="6.6" text-anchor="end" fill="#000" stroke="#000" font-weight="bold" >55</text>
<text x="488.4" y="213.74" font-size="6.6" text-anchor="end" fill="#000" stroke="#000" font-weight="bold" >60</text>
<text x="488.4" y="198.8" font-size="6.6" text-anchor="end" fill="#000" stroke="#000" font-weight="bold" >65</text>
<text x="477.9" y="270" font-size="8.5" text-anchor="middle" fill="#000" stroke="#000" font-weight="bold" transform="rotate(-90 477.9 270)" >Stress (MPa)</text>
<text x="573.8" y="370" font-size="8.2" fill="#000" stroke="#000" font-weight="bold" text-anchor="start" ><tspan font-style="italic">T</tspan><tspan font-size="5.74" dy="1.8">g</tspan><tspan dy="-1.8"> (°C)</tspan></text>
<polygon points="499.2,198.2 500.23,200.98 503.19,201.1 500.86,202.94 501.67,205.8 499.2,204.15 496.73,205.8 497.54,202.94 495.21,201.1 498.17,200.98" fill="#ff1010" stroke="none" stroke-width="1" stroke-linejoin="miter" />
<text x="508.3" y="204.4" font-size="6.5" font-weight="bold">P-SO-PA-132</text>
<circle cx="499.2" cy="210.23" r="1.89" fill="#888888" stroke="none" stroke-width="1" />
<text x="508.3" y="212.53" font-size="6.5" font-weight="bold">Poly(PO-<tspan font-style="italic">alt</tspan>-PA)</text>
<polygon points="499.2,216.09 501.47,220.09 496.93,220.09" fill="#2070e0" stroke="none" stroke-width="1" stroke-linejoin="miter" />
<text x="508.3" y="220.66" font-size="6.5" font-weight="bold">Poly(CHO-<tspan font-style="italic">alt</tspan>-PA)</text>
<polygon points="499.2,228.76 501.47,224.76 496.93,224.76" fill="#2fa070" stroke="none" stroke-width="1" stroke-linejoin="miter" />
<text x="508.3" y="228.79" font-size="6.5" font-weight="bold">Poly(VCHO-<tspan font-style="italic">alt</tspan>-PA)</text>
<polygon points="499.2,232.24 501.58,234.62 499.2,237 496.82,234.62" fill="#b07ee8" stroke="none" stroke-width="1" stroke-linejoin="miter" />
<text x="508.3" y="236.92" font-size="6.5" font-weight="bold">Poly(PGE-<tspan font-style="italic">alt</tspan>-PA)</text>
<polygon points="496.93,242.75 500.93,240.48 500.93,245.02" fill="#d4a020" stroke="none" stroke-width="1" stroke-linejoin="miter" />
<text x="508.3" y="245.05" font-size="6.5" font-weight="bold">Poly(ECHO-<tspan font-style="italic">alt</tspan>-PA)</text>
<polygon points="501.47,250.88 497.47,248.61 497.47,253.15" fill="#20c8d8" stroke="none" stroke-width="1" stroke-linejoin="miter" />
<text x="508.3" y="253.18" font-size="6.5" font-weight="bold">Poly(CPO-<tspan font-style="italic">alt</tspan>-PA)</text>
<circle cx="499.2" cy="259.01" r="1.89" fill="#7a4a50" stroke="none" stroke-width="1" />
<text x="508.3" y="261.31" font-size="6.5" font-weight="bold">Poly(BO-<tspan font-style="italic">alt</tspan>-PA)</text>
<rect x="497.47" y="265.41" width="3.46" height="3.46" fill="#9a9a20" stroke="none" stroke-width="1" />
<text x="508.3" y="269.44" font-size="6.5" font-weight="bold">PET</text>
<circle cx="499.2" cy="275.27" r="1.89" fill="#ff6a10" stroke="none" stroke-width="1" />
<text x="508.3" y="277.57" font-size="6.5" font-weight="bold">PBT</text>
<circle cx="499.2" cy="283.4" r="1.89" fill="#6a9ee0" stroke="none" stroke-width="1" />
<text x="508.3" y="285.7" font-size="6.5" font-weight="bold">PLA</text>
<rect x="497.47" y="289.8" width="3.46" height="3.46" fill="#70c020" stroke="none" stroke-width="1" />
<text x="508.3" y="293.83" font-size="6.5" font-weight="bold">P3HB</text>
<polygon points="499.2,297.28 501.58,299.66 499.2,302.04 496.82,299.66" fill="#555555" stroke="none" stroke-width="1" stroke-linejoin="miter" />
<text x="508.3" y="301.96" font-size="6.5" font-weight="bold">PBAT</text>
<polygon points="617.4,210.38 618.53,213.44 621.79,213.57 619.23,215.59 620.12,218.74 617.4,216.93 614.68,218.74 615.57,215.59 613.01,213.57 616.27,213.44" fill="#ff1010" stroke="none" stroke-width="1" stroke-linejoin="miter" />
<circle cx="586.7" cy="216.6" r="2.1" fill="#6a9ee0" stroke="none" stroke-width="1" />
<rect x="599.98" y="211.98" width="3.84" height="3.84" fill="#9a9a20" stroke="none" stroke-width="1" />
<polygon points="658.3,231.68 660.82,236.12 655.78,236.12" fill="#2070e0" stroke="none" stroke-width="1" stroke-linejoin="miter" />
<polygon points="650.8,244.52 653.32,240.08 648.28,240.08" fill="#2fa070" stroke="none" stroke-width="1" stroke-linejoin="miter" />
<polygon points="590.7,236.66 593.34,239.3 590.7,241.94 588.06,239.3" fill="#b07ee8" stroke="none" stroke-width="1" stroke-linejoin="miter" />
<circle cx="571.2" cy="244.1" r="2.1" fill="#ff6a10" stroke="none" stroke-width="1" />
<circle cx="588" cy="248.1" r="2.1" fill="#888888" stroke="none" stroke-width="1" />
<polygon points="620.72,249.4 616.28,246.88 616.28,251.92" fill="#20c8d8" stroke="none" stroke-width="1" stroke-linejoin="miter" />
<circle cx="574.7" cy="271.6" r="2.1" fill="#7a4a50" stroke="none" stroke-width="1" />
<polygon points="645.58,275.6 650.02,273.08 650.02,278.12" fill="#d4a020" stroke="none" stroke-width="1" stroke-linejoin="miter" />
<rect x="529.28" y="280.98" width="3.84" height="3.84" fill="#70c020" stroke="none" stroke-width="1" />
<polygon points="511.4,323.86 514.04,326.5 511.4,329.14 508.76,326.5" fill="#555555" stroke="none" stroke-width="1" stroke-linejoin="miter" />
<text x="602.6" y="226.7" font-size="7.8" text-anchor="start" fill="#ff1010" stroke="#ff1010" font-weight="bold" >This work</text>
</svg>
</body></html>
